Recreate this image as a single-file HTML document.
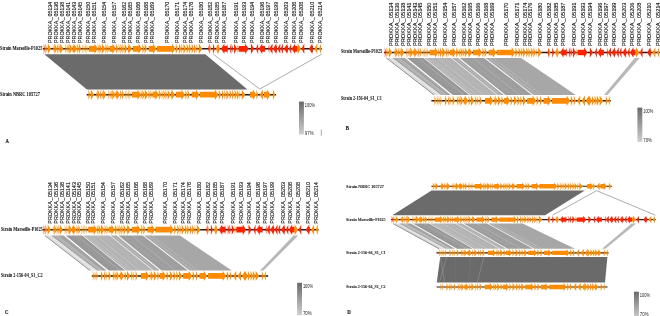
<!DOCTYPE html>
<html><head><meta charset="utf-8"><title>Figure</title>
<style>
html,body{margin:0;padding:0;background:#fff;}
body{width:660px;height:316px;overflow:hidden;}
svg{display:block;filter:blur(0.45px);}
.gl text{font-family:"Liberation Sans",sans-serif;fill:#111;stroke:#111;stroke-width:0.5px;}
.sl{font-family:"Liberation Serif",serif;font-weight:bold;fill:#111;stroke:#111;stroke-width:0.04px;}
.lg{font-family:"Liberation Sans",sans-serif;fill:#1e1e1e;}
.pl{font-family:"Liberation Serif",serif;font-weight:bold;fill:#111;stroke:#111;stroke-width:0.15px;}
</style></head>
<body>
<svg width="660" height="316" viewBox="0 0 660 316">
<rect width="660" height="316" fill="#fff"/>
<defs>
<linearGradient id="gA" x1="0" y1="0" x2="0" y2="1"><stop offset="0" stop-color="#6a6a6a"/><stop offset="1" stop-color="#cfcfcf"/></linearGradient>
<linearGradient id="gB" x1="0" y1="0" x2="0" y2="1"><stop offset="0" stop-color="#6a6a6a"/><stop offset="1" stop-color="#d0d0d0"/></linearGradient>
<linearGradient id="gC" x1="0" y1="0" x2="0" y2="1"><stop offset="0" stop-color="#6a6a6a"/><stop offset="1" stop-color="#d0d0d0"/></linearGradient>
<linearGradient id="gD" x1="0" y1="0" x2="0" y2="1"><stop offset="0" stop-color="#6a6a6a"/><stop offset="1" stop-color="#c8c8c8"/></linearGradient>
</defs>
<g class="gl"><text transform="translate(51.87,43) scale(0.2250,0.2451) rotate(-90)" font-size="21.8">PROKKA<tspan dx="3.2">_</tspan><tspan dx="2.4" font-size="21.6">05134</tspan></text>
<text transform="translate(58.09,43) scale(0.2250,0.2451) rotate(-90)" font-size="21.8">PROKKA<tspan dx="3.2">_</tspan><tspan dx="2.4" font-size="21.6">05136</tspan></text>
<text transform="translate(64.11,43) scale(0.2250,0.2451) rotate(-90)" font-size="21.8">PROKKA<tspan dx="3.2">_</tspan><tspan dx="2.4" font-size="21.6">05138</tspan></text>
<text transform="translate(70.33,43) scale(0.2250,0.2451) rotate(-90)" font-size="21.8">PROKKA<tspan dx="3.2">_</tspan><tspan dx="2.4" font-size="21.6">05141</tspan></text>
<text transform="translate(76.35,43) scale(0.2250,0.2451) rotate(-90)" font-size="21.8">PROKKA<tspan dx="3.2">_</tspan><tspan dx="2.4" font-size="21.6">05143</tspan></text>
<text transform="translate(81.86,43) scale(0.2250,0.2451) rotate(-90)" font-size="21.8">PROKKA<tspan dx="3.2">_</tspan><tspan dx="2.4" font-size="21.6">05145</tspan></text>
<text transform="translate(90.49,43) scale(0.2250,0.2451) rotate(-90)" font-size="21.8">PROKKA<tspan dx="3.2">_</tspan><tspan dx="2.4" font-size="21.6">05150</tspan></text>
<text transform="translate(96.21,43) scale(0.2250,0.2451) rotate(-90)" font-size="21.8">PROKKA<tspan dx="3.2">_</tspan><tspan dx="2.4" font-size="21.6">05151</tspan></text>
<text transform="translate(106.44,43) scale(0.2250,0.2451) rotate(-90)" font-size="21.8">PROKKA<tspan dx="3.2">_</tspan><tspan dx="2.4" font-size="21.6">05154</tspan></text>
<text transform="translate(115.88,43) scale(0.2250,0.2451) rotate(-90)" font-size="21.8">PROKKA<tspan dx="3.2">_</tspan><tspan dx="2.4" font-size="21.6">05157</tspan></text>
<text transform="translate(125.51,43) scale(0.2250,0.2451) rotate(-90)" font-size="21.8">PROKKA<tspan dx="3.2">_</tspan><tspan dx="2.4" font-size="21.6">05162</tspan></text>
<text transform="translate(131.63,43) scale(0.2250,0.2451) rotate(-90)" font-size="21.8">PROKKA<tspan dx="3.2">_</tspan><tspan dx="2.4" font-size="21.6">05165</tspan></text>
<text transform="translate(139.96,43) scale(0.2250,0.2451) rotate(-90)" font-size="21.8">PROKKA<tspan dx="3.2">_</tspan><tspan dx="2.4" font-size="21.6">05166</tspan></text>
<text transform="translate(148.38,43) scale(0.2250,0.2451) rotate(-90)" font-size="21.8">PROKKA<tspan dx="3.2">_</tspan><tspan dx="2.4" font-size="21.6">05168</tspan></text>
<text transform="translate(154.4,43) scale(0.2250,0.2451) rotate(-90)" font-size="21.8">PROKKA<tspan dx="3.2">_</tspan><tspan dx="2.4" font-size="21.6">05169</tspan></text>
<text transform="translate(168.85,43) scale(0.2250,0.2451) rotate(-90)" font-size="21.8">PROKKA<tspan dx="3.2">_</tspan><tspan dx="2.4" font-size="21.6">05170</tspan></text>
<text transform="translate(179.49,43) scale(0.2250,0.2451) rotate(-90)" font-size="21.8">PROKKA<tspan dx="3.2">_</tspan><tspan dx="2.4" font-size="21.6">05171</tspan></text>
<text transform="translate(187.41,43) scale(0.2250,0.2451) rotate(-90)" font-size="21.8">PROKKA<tspan dx="3.2">_</tspan><tspan dx="2.4" font-size="21.6">05174</tspan></text>
<text transform="translate(193.23,43) scale(0.2250,0.2451) rotate(-90)" font-size="21.8">PROKKA<tspan dx="3.2">_</tspan><tspan dx="2.4" font-size="21.6">05176</tspan></text>
<text transform="translate(203.06,43) scale(0.2250,0.2451) rotate(-90)" font-size="21.8">PROKKA<tspan dx="3.2">_</tspan><tspan dx="2.4" font-size="21.6">05180</tspan></text>
<text transform="translate(212.49,43) scale(0.2250,0.2451) rotate(-90)" font-size="21.8">PROKKA<tspan dx="3.2">_</tspan><tspan dx="2.4" font-size="21.6">05182</tspan></text>
<text transform="translate(219.42,43) scale(0.2250,0.2451) rotate(-90)" font-size="21.8">PROKKA<tspan dx="3.2">_</tspan><tspan dx="2.4" font-size="21.6">05185</tspan></text>
<text transform="translate(226.44,43) scale(0.2250,0.2451) rotate(-90)" font-size="21.8">PROKKA<tspan dx="3.2">_</tspan><tspan dx="2.4" font-size="21.6">05187</tspan></text>
<text transform="translate(237.88,43) scale(0.2250,0.2451) rotate(-90)" font-size="21.8">PROKKA<tspan dx="3.2">_</tspan><tspan dx="2.4" font-size="21.6">05191</tspan></text>
<text transform="translate(246.41,43) scale(0.2250,0.2451) rotate(-90)" font-size="21.8">PROKKA<tspan dx="3.2">_</tspan><tspan dx="2.4" font-size="21.6">05193</tspan></text>
<text transform="translate(254.03,43) scale(0.2250,0.2451) rotate(-90)" font-size="21.8">PROKKA<tspan dx="3.2">_</tspan><tspan dx="2.4" font-size="21.6">05194</tspan></text>
<text transform="translate(263.56,43) scale(0.2250,0.2451) rotate(-90)" font-size="21.8">PROKKA<tspan dx="3.2">_</tspan><tspan dx="2.4" font-size="21.6">05196</tspan></text>
<text transform="translate(270.18,43) scale(0.2250,0.2451) rotate(-90)" font-size="21.8">PROKKA<tspan dx="3.2">_</tspan><tspan dx="2.4" font-size="21.6">05197</tspan></text>
<text transform="translate(277.71,43) scale(0.2250,0.2451) rotate(-90)" font-size="21.8">PROKKA<tspan dx="3.2">_</tspan><tspan dx="2.4" font-size="21.6">05199</tspan></text>
<text transform="translate(288.24,43) scale(0.2250,0.2451) rotate(-90)" font-size="21.8">PROKKA<tspan dx="3.2">_</tspan><tspan dx="2.4" font-size="21.6">05203</tspan></text>
<text transform="translate(296.17,43) scale(0.2250,0.2451) rotate(-90)" font-size="21.8">PROKKA<tspan dx="3.2">_</tspan><tspan dx="2.4" font-size="21.6">05206</tspan></text>
<text transform="translate(303.39,43) scale(0.2250,0.2451) rotate(-90)" font-size="21.8">PROKKA<tspan dx="3.2">_</tspan><tspan dx="2.4" font-size="21.6">05208</tspan></text>
<text transform="translate(313.83,43) scale(0.2250,0.2451) rotate(-90)" font-size="21.8">PROKKA<tspan dx="3.2">_</tspan><tspan dx="2.4" font-size="21.6">05210</tspan></text>
<text transform="translate(322.46,43) scale(0.2250,0.2451) rotate(-90)" font-size="21.8">PROKKA<tspan dx="3.2">_</tspan><tspan dx="2.4" font-size="21.6">05214</tspan></text></g>
<polygon points="44.3,54.2 205.3,54.2 247.5,89.4 86.9,89.4" fill="#6b6b6b"/>
<polyline points="213.2,54.2 259.8,89.0 321.6,54.2" fill="none" stroke="#666" stroke-width="0.55"/>
<line x1="43" y1="48.8" x2="321.8" y2="48.8" stroke="#1e1e1e" stroke-width="1.5"/>
<polygon points="43.6,43.6 45.5,48.8 43.6,54" fill="#ff2200" fill-opacity="0.66"/>
<polygon points="45.2,43.6 47.9,48.8 45.2,54" fill="#ff8c00" fill-opacity="0.72"/>
<polygon points="47.9,43.6 51.1,48.8 47.9,54" fill="#ff8c00"/>
<polygon points="54.7,43.6 52.9,48.8 54.7,54" fill="#ff8c00" fill-opacity="0.84"/>
<polygon points="54.7,43.6 57,48.8 54.7,54" fill="#ff8c00"/>
<polygon points="57,43.6 58.8,48.8 57,54" fill="#ff8c00" fill-opacity="0.84"/>
<polygon points="58.8,43.6 60.2,48.8 58.8,54" fill="#ff8c00"/>
<polygon points="60.2,43.6 63.4,48.8 60.2,54" fill="#ff8c00"/>
<polygon points="65.2,43.6 66.8,48.8 65.2,54" fill="#ff8c00" fill-opacity="0.72"/>
<polygon points="66.8,43.6 68.4,48.8 66.8,54" fill="#ff8c00" fill-opacity="0.72"/>
<polygon points="68.4,43.6 69.4,48.8 68.4,54" fill="#ff8c00"/>
<polygon points="69.4,43.6 72.5,48.8 69.4,54" fill="#ff8c00"/>
<polygon points="72.5,45.95 73.6,45.95 73.6,43.6 77.1,48.8 73.6,54 73.6,51.65 72.5,51.65" fill="#ff8c00"/>
<polygon points="77.1,43.6 79,48.8 77.1,54" fill="#ff8c00" fill-opacity="0.96"/>
<polygon points="79,43.6 81.2,48.8 79,54" fill="#ff8c00" fill-opacity="0.96"/>
<polygon points="82.1,43.6 83.6,48.8 82.1,54" fill="#ff8c00" fill-opacity="0.66"/>
<polygon points="83.6,43.6 85,48.8 83.6,54" fill="#ff8c00" fill-opacity="0.66"/>
<polygon points="85,43.6 86.5,48.8 85,54" fill="#ff8c00" fill-opacity="0.66"/>
<polygon points="86.5,43.6 88,48.8 86.5,54" fill="#ff8c00" fill-opacity="0.66"/>
<polygon points="88.9,45.95 94.5,45.95 94.5,43.6 98,48.8 94.5,54 94.5,51.65 88.9,51.65" fill="#ff8c00"/>
<polygon points="97.7,43.6 99.5,48.8 97.7,54" fill="#ff8c00" fill-opacity="0.84"/>
<polygon points="99.5,43.6 101.8,48.8 99.5,54" fill="#ff8c00"/>
<polygon points="101.8,43.6 105.5,48.8 101.8,54" fill="#ff8c00"/>
<polygon points="105.5,43.6 107.3,48.8 105.5,54" fill="#ff8c00"/>
<polygon points="107.3,43.6 109.5,48.8 107.3,54" fill="#ff8c00" fill-opacity="0.72"/>
<polygon points="109.5,45.95 112.4,45.95 112.4,43.6 115.9,48.8 112.4,54 112.4,51.65 109.5,51.65" fill="#ff8c00"/>
<polygon points="115.9,43.6 118.6,48.8 115.9,54" fill="#ff8c00" fill-opacity="0.9"/>
<polygon points="118.6,43.6 120.5,48.8 118.6,54" fill="#ff8c00" fill-opacity="0.72"/>
<polygon points="120.5,43.6 122.5,48.8 120.5,54" fill="#ff8c00"/>
<polygon points="122.5,43.6 124.3,48.8 122.5,54" fill="#ff8c00"/>
<polygon points="124.7,43.6 127.5,48.8 124.7,54" fill="#ff8c00"/>
<polygon points="127.9,45.95 128.5,45.95 128.5,43.6 132,48.8 128.5,54 128.5,51.65 127.9,51.65" fill="#ff8c00"/>
<polygon points="132.9,45.95 138.5,45.95 138.5,43.6 142,48.8 138.5,54 138.5,51.65 132.9,51.65" fill="#ff8c00"/>
<polygon points="142.5,43.6 144.3,48.8 142.5,54" fill="#ff8c00"/>
<polygon points="144.7,43.6 147,48.8 144.7,54" fill="#ff8c00"/>
<polygon points="148.7,45.95 153,45.95 153,43.6 156.5,48.8 153,54 153,51.65 148.7,51.65" fill="#ff8c00"/>
<polygon points="156.9,45.95 172,45.95 172,43.6 175.5,48.8 172,54 172,51.65 156.9,51.65" fill="#ff8c00"/>
<polygon points="175.8,43.6 178.1,48.8 175.8,54" fill="#ff8c00"/>
<polygon points="179,43.6 181.3,48.8 179,54" fill="#ff8c00"/>
<polygon points="181.3,43.6 183.1,48.8 181.3,54" fill="#ff8c00" fill-opacity="0.9"/>
<polygon points="183.5,43.6 186.3,48.8 183.5,54" fill="#ff8c00"/>
<polygon points="186.7,43.6 189,48.8 186.7,54" fill="#ff8c00"/>
<polygon points="189,43.6 191.3,48.8 189,54" fill="#ff8c00" fill-opacity="0.9"/>
<polygon points="191.7,43.6 194,48.8 191.7,54" fill="#ff8c00"/>
<polygon points="194,43.6 196.3,48.8 194,54" fill="#ff8c00"/>
<polygon points="196.3,43.6 198.1,48.8 196.3,54" fill="#ff8c00" fill-opacity="0.66"/>
<polygon points="198.8,43.6 202.3,48.8 198.8,54" fill="#ff8c00"/>
<polygon points="209.6,43.6 208,48.8 209.6,54" fill="#ff2200"/>
<polygon points="209.6,43.6 211.1,48.8 209.6,54" fill="#ff8c00"/>
<polygon points="213,43.6 215,48.8 213,54" fill="#ff2200"/>
<polygon points="218,43.6 215.9,48.8 218,54" fill="#ff8c00"/>
<polygon points="218,43.6 220,48.8 218,54" fill="#ff8c00"/>
<polygon points="227.3,45.95 224.4,45.95 224.4,43.6 220.9,48.8 224.4,54 224.4,51.65 227.3,51.65" fill="#ff2200"/>
<polygon points="227,43.6 228.7,48.8 227,54" fill="#ff2200" fill-opacity="0.72"/>
<polygon points="230,43.6 231.6,48.8 230,54" fill="#ff2200" fill-opacity="0.9"/>
<polygon points="231.6,43.6 233.3,48.8 231.6,54" fill="#ff2200" fill-opacity="0.9"/>
<polygon points="234,43.6 236.9,48.8 234,54" fill="#ff2200"/>
<polygon points="236.9,43.6 238.7,48.8 236.9,54" fill="#ff8c00" fill-opacity="0.6"/>
<polygon points="238.7,45.95 245.2,45.95 245.2,43.6 248.7,48.8 245.2,54 245.2,51.65 238.7,51.65" fill="#ff2200"/>
<polygon points="251,43.6 254.2,48.8 251,54" fill="#ff2200"/>
<polygon points="258.1,43.6 255.9,48.8 258.1,54" fill="#ff2200"/>
<polygon points="265.2,45.95 262.3,45.95 262.3,43.6 258.8,48.8 262.3,54 262.3,51.65 265.2,51.65" fill="#ff2200"/>
<polygon points="269.3,43.6 267.9,48.8 269.3,54" fill="#ff2200" fill-opacity="0.78"/>
<polygon points="272.5,43.6 269.3,48.8 272.5,54" fill="#ff2200"/>
<polygon points="277,45.95 276.4,45.95 276.4,43.6 272.9,48.8 276.4,54 276.4,51.65 277,51.65" fill="#ff2200"/>
<polygon points="280.3,43.6 277.5,48.8 280.3,54" fill="#ff2200"/>
<polygon points="283,43.6 280.7,48.8 283,54" fill="#ff2200"/>
<polygon points="288,45.95 287.4,45.95 287.4,43.6 283.9,48.8 287.4,54 287.4,51.65 288,51.65" fill="#ff2200"/>
<polygon points="291.2,43.6 288.9,48.8 291.2,54" fill="#ff2200"/>
<polygon points="297.1,45.95 295.1,45.95 295.1,43.6 291.6,48.8 295.1,54 295.1,51.65 297.1,51.65" fill="#ff2200"/>
<polygon points="297.1,45.95 297.7,45.95 297.7,43.6 301.2,48.8 297.7,54 297.7,51.65 297.1,51.65" fill="#ff8c00"/>
<polygon points="304.3,43.6 301.6,48.8 304.3,54" fill="#ff2200"/>
<polygon points="313,45.95 312.4,45.95 312.4,43.6 308.9,48.8 312.4,54 312.4,51.65 313,51.65" fill="#ff2200"/>
<polygon points="317.3,43.6 314.3,48.8 317.3,54" fill="#ff8c00"/>
<polygon points="321.1,43.6 318.9,48.8 321.1,54" fill="#ff8c00"/>
<line x1="86.7" y1="94.7" x2="276" y2="94.7" stroke="#1e1e1e" stroke-width="1.5"/>
<polygon points="88.2,89.5 90.9,94.7 88.2,99.9" fill="#ff8c00" fill-opacity="0.72"/>
<polygon points="90.9,89.5 94.1,94.7 90.9,99.9" fill="#ff8c00"/>
<polygon points="97.7,89.5 95.9,94.7 97.7,99.9" fill="#ff8c00" fill-opacity="0.84"/>
<polygon points="97.7,89.5 100,94.7 97.7,99.9" fill="#ff8c00"/>
<polygon points="100,89.5 101.8,94.7 100,99.9" fill="#ff8c00" fill-opacity="0.84"/>
<polygon points="101.8,89.5 103.2,94.7 101.8,99.9" fill="#ff8c00"/>
<polygon points="103.2,89.5 106.4,94.7 103.2,99.9" fill="#ff8c00"/>
<polygon points="108.2,89.5 109.8,94.7 108.2,99.9" fill="#ff8c00" fill-opacity="0.72"/>
<polygon points="109.8,89.5 111.4,94.7 109.8,99.9" fill="#ff8c00" fill-opacity="0.72"/>
<polygon points="111.4,89.5 112.4,94.7 111.4,99.9" fill="#ff8c00"/>
<polygon points="112.4,89.5 115.5,94.7 112.4,99.9" fill="#ff8c00"/>
<polygon points="115.5,91.85 116.6,91.85 116.6,89.5 120.1,94.7 116.6,99.9 116.6,97.55 115.5,97.55" fill="#ff8c00"/>
<polygon points="120.1,89.5 122,94.7 120.1,99.9" fill="#ff8c00" fill-opacity="0.96"/>
<polygon points="122,89.5 124.2,94.7 122,99.9" fill="#ff8c00" fill-opacity="0.96"/>
<polygon points="125.1,89.5 126.6,94.7 125.1,99.9" fill="#ff8c00" fill-opacity="0.66"/>
<polygon points="126.6,89.5 128,94.7 126.6,99.9" fill="#ff8c00" fill-opacity="0.66"/>
<polygon points="128,89.5 129.5,94.7 128,99.9" fill="#ff8c00" fill-opacity="0.66"/>
<polygon points="129.5,89.5 131,94.7 129.5,99.9" fill="#ff8c00" fill-opacity="0.66"/>
<polygon points="131.9,91.85 137.5,91.85 137.5,89.5 141,94.7 137.5,99.9 137.5,97.55 131.9,97.55" fill="#ff8c00"/>
<polygon points="140.7,89.5 142.5,94.7 140.7,99.9" fill="#ff8c00" fill-opacity="0.84"/>
<polygon points="142.5,89.5 144.8,94.7 142.5,99.9" fill="#ff8c00"/>
<polygon points="144.8,89.5 148.5,94.7 144.8,99.9" fill="#ff8c00"/>
<polygon points="148.5,89.5 150.3,94.7 148.5,99.9" fill="#ff8c00"/>
<polygon points="150.3,89.5 152.5,94.7 150.3,99.9" fill="#ff8c00" fill-opacity="0.72"/>
<polygon points="152.5,91.85 155.4,91.85 155.4,89.5 158.9,94.7 155.4,99.9 155.4,97.55 152.5,97.55" fill="#ff8c00"/>
<polygon points="158.9,89.5 161.6,94.7 158.9,99.9" fill="#ff8c00" fill-opacity="0.9"/>
<polygon points="161.6,89.5 163.5,94.7 161.6,99.9" fill="#ff8c00" fill-opacity="0.72"/>
<polygon points="163.5,89.5 165.5,94.7 163.5,99.9" fill="#ff8c00"/>
<polygon points="165.5,89.5 167.3,94.7 165.5,99.9" fill="#ff8c00"/>
<polygon points="167.7,89.5 170.5,94.7 167.7,99.9" fill="#ff8c00"/>
<polygon points="170.9,91.85 171.5,91.85 171.5,89.5 175,94.7 171.5,99.9 171.5,97.55 170.9,97.55" fill="#ff8c00"/>
<polygon points="175.9,91.85 181.5,91.85 181.5,89.5 185,94.7 181.5,99.9 181.5,97.55 175.9,97.55" fill="#ff8c00"/>
<polygon points="185.5,89.5 187.3,94.7 185.5,99.9" fill="#ff8c00"/>
<polygon points="187.7,89.5 190,94.7 187.7,99.9" fill="#ff8c00"/>
<polygon points="191.7,91.85 196,91.85 196,89.5 199.5,94.7 196,99.9 196,97.55 191.7,97.55" fill="#ff8c00"/>
<polygon points="199.9,91.85 215,91.85 215,89.5 218.5,94.7 215,99.9 215,97.55 199.9,97.55" fill="#ff8c00"/>
<polygon points="218.8,89.5 221.1,94.7 218.8,99.9" fill="#ff8c00"/>
<polygon points="222,89.5 224.3,94.7 222,99.9" fill="#ff8c00"/>
<polygon points="224.3,89.5 226.1,94.7 224.3,99.9" fill="#ff8c00" fill-opacity="0.9"/>
<polygon points="226.5,89.5 229.3,94.7 226.5,99.9" fill="#ff8c00"/>
<polygon points="229.7,89.5 232,94.7 229.7,99.9" fill="#ff8c00"/>
<polygon points="232,89.5 234.3,94.7 232,99.9" fill="#ff8c00" fill-opacity="0.9"/>
<polygon points="234.7,89.5 237,94.7 234.7,99.9" fill="#ff8c00"/>
<polygon points="237,89.5 239.3,94.7 237,99.9" fill="#ff8c00"/>
<polygon points="239.3,89.5 241.1,94.7 239.3,99.9" fill="#ff8c00" fill-opacity="0.66"/>
<polygon points="241.8,89.5 245.3,94.7 241.8,99.9" fill="#ff8c00"/>
<polygon points="250,91.85 252.9,91.85 252.9,89.5 256.4,94.7 252.9,99.9 252.9,97.55 250,97.55" fill="#ff8c00"/>
<polygon points="256.4,89.5 258.2,94.7 256.4,99.9" fill="#ff8c00"/>
<polygon points="263,89.5 259.7,94.7 263,99.9" fill="#ff8c00"/>
<polygon points="263.9,91.85 267.1,91.85 267.1,89.5 270.6,94.7 267.1,99.9 267.1,97.55 263.9,97.55" fill="#ff8c00"/>
<polygon points="273,89.5 275.2,94.7 273,99.9" fill="#ff8c00"/>
<text class="sl" transform="translate(0,49.71) scale(0.7819,1)" font-size="5.5">Strain Marseille-P1025</text>
<text class="sl" transform="translate(0,95.77) scale(0.8080,1)" font-size="5.5">Strain NBRC 105727</text>
<rect x="299" y="101.6" width="4.9" height="32.9" fill="url(#gA)"/>
<text class="lg" transform="translate(304.8,106.5) scale(0.7385,1)" font-size="5.4">100%</text>
<text class="lg" transform="translate(304.8,134.7) scale(0.8142,1)" font-size="5.4">97%</text>
<line x1="321.3" y1="129.5" x2="321.3" y2="135.8" stroke="#555" stroke-width="0.5"/>
<text class="pl" transform="translate(5.5,142.85) scale(0.86,1)" font-size="5.6">A</text>
<g class="gl"><text transform="translate(392.91,46) scale(0.2250,0.2585) rotate(-90)" font-size="21.8">PROKKA<tspan dx="3.2">_</tspan><tspan dx="2.4" font-size="21.6">05134</tspan></text>
<text transform="translate(399.04,46) scale(0.2250,0.2585) rotate(-90)" font-size="21.8">PROKKA<tspan dx="3.2">_</tspan><tspan dx="2.4" font-size="21.6">05136</tspan></text>
<text transform="translate(404.97,46) scale(0.2250,0.2585) rotate(-90)" font-size="21.8">PROKKA<tspan dx="3.2">_</tspan><tspan dx="2.4" font-size="21.6">05138</tspan></text>
<text transform="translate(411.1,46) scale(0.2250,0.2585) rotate(-90)" font-size="21.8">PROKKA<tspan dx="3.2">_</tspan><tspan dx="2.4" font-size="21.6">05141</tspan></text>
<text transform="translate(417.04,46) scale(0.2250,0.2585) rotate(-90)" font-size="21.8">PROKKA<tspan dx="3.2">_</tspan><tspan dx="2.4" font-size="21.6">05143</tspan></text>
<text transform="translate(422.48,46) scale(0.2250,0.2585) rotate(-90)" font-size="21.8">PROKKA<tspan dx="3.2">_</tspan><tspan dx="2.4" font-size="21.6">05145</tspan></text>
<text transform="translate(430.98,46) scale(0.2250,0.2585) rotate(-90)" font-size="21.8">PROKKA<tspan dx="3.2">_</tspan><tspan dx="2.4" font-size="21.6">05150</tspan></text>
<text transform="translate(436.62,46) scale(0.2250,0.2585) rotate(-90)" font-size="21.8">PROKKA<tspan dx="3.2">_</tspan><tspan dx="2.4" font-size="21.6">05151</tspan></text>
<text transform="translate(446.71,46) scale(0.2250,0.2585) rotate(-90)" font-size="21.8">PROKKA<tspan dx="3.2">_</tspan><tspan dx="2.4" font-size="21.6">05154</tspan></text>
<text transform="translate(456,46) scale(0.2250,0.2585) rotate(-90)" font-size="21.8">PROKKA<tspan dx="3.2">_</tspan><tspan dx="2.4" font-size="21.6">05157</tspan></text>
<text transform="translate(465.5,46) scale(0.2250,0.2585) rotate(-90)" font-size="21.8">PROKKA<tspan dx="3.2">_</tspan><tspan dx="2.4" font-size="21.6">05162</tspan></text>
<text transform="translate(471.53,46) scale(0.2250,0.2585) rotate(-90)" font-size="21.8">PROKKA<tspan dx="3.2">_</tspan><tspan dx="2.4" font-size="21.6">05165</tspan></text>
<text transform="translate(479.74,46) scale(0.2250,0.2585) rotate(-90)" font-size="21.8">PROKKA<tspan dx="3.2">_</tspan><tspan dx="2.4" font-size="21.6">05166</tspan></text>
<text transform="translate(488.05,46) scale(0.2250,0.2585) rotate(-90)" font-size="21.8">PROKKA<tspan dx="3.2">_</tspan><tspan dx="2.4" font-size="21.6">05168</tspan></text>
<text transform="translate(493.98,46) scale(0.2250,0.2585) rotate(-90)" font-size="21.8">PROKKA<tspan dx="3.2">_</tspan><tspan dx="2.4" font-size="21.6">05169</tspan></text>
<text transform="translate(508.22,46) scale(0.2250,0.2585) rotate(-90)" font-size="21.8">PROKKA<tspan dx="3.2">_</tspan><tspan dx="2.4" font-size="21.6">05170</tspan></text>
<text transform="translate(518.71,46) scale(0.2250,0.2585) rotate(-90)" font-size="21.8">PROKKA<tspan dx="3.2">_</tspan><tspan dx="2.4" font-size="21.6">05171</tspan></text>
<text transform="translate(526.52,46) scale(0.2250,0.2585) rotate(-90)" font-size="21.8">PROKKA<tspan dx="3.2">_</tspan><tspan dx="2.4" font-size="21.6">05174</tspan></text>
<text transform="translate(532.26,46) scale(0.2250,0.2585) rotate(-90)" font-size="21.8">PROKKA<tspan dx="3.2">_</tspan><tspan dx="2.4" font-size="21.6">05176</tspan></text>
<text transform="translate(541.95,46) scale(0.2250,0.2585) rotate(-90)" font-size="21.8">PROKKA<tspan dx="3.2">_</tspan><tspan dx="2.4" font-size="21.6">05180</tspan></text>
<text transform="translate(551.25,46) scale(0.2250,0.2585) rotate(-90)" font-size="21.8">PROKKA<tspan dx="3.2">_</tspan><tspan dx="2.4" font-size="21.6">05182</tspan></text>
<text transform="translate(558.07,46) scale(0.2250,0.2585) rotate(-90)" font-size="21.8">PROKKA<tspan dx="3.2">_</tspan><tspan dx="2.4" font-size="21.6">05185</tspan></text>
<text transform="translate(564.99,46) scale(0.2250,0.2585) rotate(-90)" font-size="21.8">PROKKA<tspan dx="3.2">_</tspan><tspan dx="2.4" font-size="21.6">05187</tspan></text>
<text transform="translate(576.27,46) scale(0.2250,0.2585) rotate(-90)" font-size="21.8">PROKKA<tspan dx="3.2">_</tspan><tspan dx="2.4" font-size="21.6">05191</tspan></text>
<text transform="translate(584.67,46) scale(0.2250,0.2585) rotate(-90)" font-size="21.8">PROKKA<tspan dx="3.2">_</tspan><tspan dx="2.4" font-size="21.6">05193</tspan></text>
<text transform="translate(592.19,46) scale(0.2250,0.2585) rotate(-90)" font-size="21.8">PROKKA<tspan dx="3.2">_</tspan><tspan dx="2.4" font-size="21.6">05194</tspan></text>
<text transform="translate(601.59,46) scale(0.2250,0.2585) rotate(-90)" font-size="21.8">PROKKA<tspan dx="3.2">_</tspan><tspan dx="2.4" font-size="21.6">05196</tspan></text>
<text transform="translate(608.11,46) scale(0.2250,0.2585) rotate(-90)" font-size="21.8">PROKKA<tspan dx="3.2">_</tspan><tspan dx="2.4" font-size="21.6">05197</tspan></text>
<text transform="translate(615.53,46) scale(0.2250,0.2585) rotate(-90)" font-size="21.8">PROKKA<tspan dx="3.2">_</tspan><tspan dx="2.4" font-size="21.6">05199</tspan></text>
<text transform="translate(625.91,46) scale(0.2250,0.2585) rotate(-90)" font-size="21.8">PROKKA<tspan dx="3.2">_</tspan><tspan dx="2.4" font-size="21.6">05203</tspan></text>
<text transform="translate(633.73,46) scale(0.2250,0.2585) rotate(-90)" font-size="21.8">PROKKA<tspan dx="3.2">_</tspan><tspan dx="2.4" font-size="21.6">05206</tspan></text>
<text transform="translate(640.85,46) scale(0.2250,0.2585) rotate(-90)" font-size="21.8">PROKKA<tspan dx="3.2">_</tspan><tspan dx="2.4" font-size="21.6">05208</tspan></text>
<text transform="translate(651.13,46) scale(0.2250,0.2585) rotate(-90)" font-size="21.8">PROKKA<tspan dx="3.2">_</tspan><tspan dx="2.4" font-size="21.6">05210</tspan></text>
<text transform="translate(659.64,46) scale(0.2250,0.2585) rotate(-90)" font-size="21.8">PROKKA<tspan dx="3.2">_</tspan><tspan dx="2.4" font-size="21.6">05214</tspan></text></g>
<polygon points="385.8,57.9 392.3,57.9 441,94.9 433.3,94.9" fill="#ececec"/>
<polygon points="392.3,57.9 405,57.9 450.8,94.9 441,94.9" fill="#a6a6a6"/>
<polygon points="407,57.9 423.5,57.9 469.3,94.9 452.8,94.9" fill="#989898"/>
<polygon points="424.5,57.9 451,57.9 496.8,94.9 470.3,94.9" fill="#b3b3b3"/>
<polygon points="452,57.9 458,57.9 503.8,94.9 497.8,94.9" fill="#a9a9a9"/>
<polygon points="459.7,57.9 484,57.9 532,94.9 505.5,94.9" fill="#9e9e9e"/>
<polygon points="485.5,57.9 521.2,57.9 575.8,94.9 533.5,94.9" fill="#a7a7a7"/>
<polygon points="634.8,57.9 639.6,57.9 607.5,94.9 604,94.9" fill="#b8b8b8"/>
<line x1="386.3" y1="57.9" x2="434.2" y2="94.9" stroke="#6e6e6e" stroke-width="0.75"/>
<line x1="388.6" y1="57.9" x2="436.6" y2="94.9" stroke="#b4b4b4" stroke-width="0.45"/>
<line x1="390.8" y1="57.9" x2="439.4" y2="94.9" stroke="#d0d0d0" stroke-width="0.4"/>
<line x1="396" y1="57.9" x2="444" y2="94.9" stroke="#e6e6e6" stroke-width="0.35"/>
<line x1="401" y1="57.9" x2="447.5" y2="94.9" stroke="#8a8a8a" stroke-width="0.3"/>
<line x1="414" y1="57.9" x2="460" y2="94.9" stroke="#a8a8a8" stroke-width="0.35"/>
<line x1="418" y1="57.9" x2="464" y2="94.9" stroke="#dedede" stroke-width="0.3"/>
<line x1="431" y1="57.9" x2="477" y2="94.9" stroke="#d8d8d8" stroke-width="0.35"/>
<line x1="437.5" y1="57.9" x2="483.5" y2="94.9" stroke="#e2e2e2" stroke-width="0.35"/>
<line x1="444" y1="57.9" x2="490" y2="94.9" stroke="#c8c8c8" stroke-width="0.3"/>
<line x1="466" y1="57.9" x2="512" y2="94.9" stroke="#b5b5b5" stroke-width="0.3"/>
<line x1="473" y1="57.9" x2="519.5" y2="94.9" stroke="#dadada" stroke-width="0.3"/>
<line x1="478" y1="57.9" x2="525" y2="94.9" stroke="#ababab" stroke-width="0.3"/>
<line x1="398.5" y1="57.9" x2="446" y2="94.9" stroke="#f2f2f2" stroke-width="0.35"/>
<line x1="427" y1="57.9" x2="473" y2="94.9" stroke="#f0f0f0" stroke-width="0.3"/>
<line x1="455" y1="57.9" x2="500.5" y2="94.9" stroke="#f4f4f4" stroke-width="0.3"/>
<line x1="489" y1="57.9" x2="537" y2="94.9" stroke="#e8e8e8" stroke-width="0.3"/>
<line x1="493" y1="57.9" x2="542" y2="94.9" stroke="#d8d8d8" stroke-width="0.3"/>
<line x1="384.12" y1="52.5" x2="659.85" y2="52.5" stroke="#1e1e1e" stroke-width="1.5"/>
<polygon points="384.71,47.3 386.59,52.5 384.71,57.7" fill="#ff2200" fill-opacity="0.66"/>
<polygon points="386.29,47.3 388.96,52.5 386.29,57.7" fill="#ff8c00" fill-opacity="0.72"/>
<polygon points="388.96,47.3 392.13,52.5 388.96,57.7" fill="#ff8c00"/>
<polygon points="395.69,47.3 393.91,52.5 395.69,57.7" fill="#ff8c00" fill-opacity="0.84"/>
<polygon points="395.69,47.3 397.96,52.5 395.69,57.7" fill="#ff8c00"/>
<polygon points="397.96,47.3 399.74,52.5 397.96,57.7" fill="#ff8c00" fill-opacity="0.84"/>
<polygon points="399.74,47.3 401.13,52.5 399.74,57.7" fill="#ff8c00"/>
<polygon points="401.13,47.3 404.29,52.5 401.13,57.7" fill="#ff8c00"/>
<polygon points="406.07,47.3 407.65,52.5 406.07,57.7" fill="#ff8c00" fill-opacity="0.72"/>
<polygon points="407.65,47.3 409.24,52.5 407.65,57.7" fill="#ff8c00" fill-opacity="0.72"/>
<polygon points="409.24,47.3 410.23,52.5 409.24,57.7" fill="#ff8c00"/>
<polygon points="410.23,47.3 413.29,52.5 410.23,57.7" fill="#ff8c00"/>
<polygon points="413.29,49.65 414.38,49.65 414.38,47.3 417.84,52.5 414.38,57.7 414.38,55.35 413.29,55.35" fill="#ff8c00"/>
<polygon points="417.84,47.3 419.72,52.5 417.84,57.7" fill="#ff8c00" fill-opacity="0.96"/>
<polygon points="419.72,47.3 421.9,52.5 419.72,57.7" fill="#ff8c00" fill-opacity="0.96"/>
<polygon points="422.79,47.3 424.27,52.5 422.79,57.7" fill="#ff8c00" fill-opacity="0.66"/>
<polygon points="424.27,47.3 425.65,52.5 424.27,57.7" fill="#ff8c00" fill-opacity="0.66"/>
<polygon points="425.65,47.3 427.14,52.5 425.65,57.7" fill="#ff8c00" fill-opacity="0.66"/>
<polygon points="427.14,47.3 428.62,52.5 427.14,57.7" fill="#ff8c00" fill-opacity="0.66"/>
<polygon points="429.51,49.65 435.05,49.65 435.05,47.3 438.51,52.5 435.05,57.7 435.05,55.35 429.51,55.35" fill="#ff8c00"/>
<polygon points="438.21,47.3 440,52.5 438.21,57.7" fill="#ff8c00" fill-opacity="0.84"/>
<polygon points="440,47.3 442.27,52.5 440,57.7" fill="#ff8c00"/>
<polygon points="442.27,47.3 445.93,52.5 442.27,57.7" fill="#ff8c00"/>
<polygon points="445.93,47.3 447.71,52.5 445.93,57.7" fill="#ff8c00"/>
<polygon points="447.71,47.3 449.88,52.5 447.71,57.7" fill="#ff8c00" fill-opacity="0.72"/>
<polygon points="449.88,49.65 452.75,49.65 452.75,47.3 456.21,52.5 452.75,57.7 452.75,55.35 449.88,55.35" fill="#ff8c00"/>
<polygon points="456.21,47.3 458.88,52.5 456.21,57.7" fill="#ff8c00" fill-opacity="0.9"/>
<polygon points="458.88,47.3 460.76,52.5 458.88,57.7" fill="#ff8c00" fill-opacity="0.72"/>
<polygon points="460.76,47.3 462.74,52.5 460.76,57.7" fill="#ff8c00"/>
<polygon points="462.74,47.3 464.52,52.5 462.74,57.7" fill="#ff8c00"/>
<polygon points="464.92,47.3 467.69,52.5 464.92,57.7" fill="#ff8c00"/>
<polygon points="468.08,49.65 468.68,49.65 468.68,47.3 472.14,52.5 468.68,57.7 468.68,55.35 468.08,55.35" fill="#ff8c00"/>
<polygon points="473.03,49.65 478.57,49.65 478.57,47.3 482.03,52.5 478.57,57.7 478.57,55.35 473.03,55.35" fill="#ff8c00"/>
<polygon points="482.52,47.3 484.3,52.5 482.52,57.7" fill="#ff8c00"/>
<polygon points="484.7,47.3 486.97,52.5 484.7,57.7" fill="#ff8c00"/>
<polygon points="488.65,49.65 492.91,49.65 492.91,47.3 496.37,52.5 492.91,57.7 492.91,55.35 488.65,55.35" fill="#ff8c00"/>
<polygon points="496.76,49.65 511.7,49.65 511.7,47.3 515.16,52.5 511.7,57.7 511.7,55.35 496.76,55.35" fill="#ff8c00"/>
<polygon points="515.46,47.3 517.73,52.5 515.46,57.7" fill="#ff8c00"/>
<polygon points="518.62,47.3 520.9,52.5 518.62,57.7" fill="#ff8c00"/>
<polygon points="520.9,47.3 522.68,52.5 520.9,57.7" fill="#ff8c00" fill-opacity="0.9"/>
<polygon points="523.07,47.3 525.84,52.5 523.07,57.7" fill="#ff8c00"/>
<polygon points="526.24,47.3 528.51,52.5 526.24,57.7" fill="#ff8c00"/>
<polygon points="528.51,47.3 530.79,52.5 528.51,57.7" fill="#ff8c00" fill-opacity="0.9"/>
<polygon points="531.18,47.3 533.46,52.5 531.18,57.7" fill="#ff8c00"/>
<polygon points="533.46,47.3 535.73,52.5 533.46,57.7" fill="#ff8c00"/>
<polygon points="535.73,47.3 537.51,52.5 535.73,57.7" fill="#ff8c00" fill-opacity="0.66"/>
<polygon points="538.2,47.3 541.66,52.5 538.2,57.7" fill="#ff8c00"/>
<polygon points="548.88,47.3 547.3,52.5 548.88,57.7" fill="#ff2200"/>
<polygon points="548.88,47.3 550.37,52.5 548.88,57.7" fill="#ff8c00"/>
<polygon points="552.25,47.3 554.22,52.5 552.25,57.7" fill="#ff2200"/>
<polygon points="557.19,47.3 555.11,52.5 557.19,57.7" fill="#ff8c00"/>
<polygon points="557.19,47.3 559.17,52.5 557.19,57.7" fill="#ff8c00"/>
<polygon points="566.39,49.65 563.52,49.65 563.52,47.3 560.06,52.5 563.52,57.7 563.52,55.35 566.39,55.35" fill="#ff2200"/>
<polygon points="566.09,47.3 567.77,52.5 566.09,57.7" fill="#ff2200" fill-opacity="0.72"/>
<polygon points="569.06,47.3 570.64,52.5 569.06,57.7" fill="#ff2200" fill-opacity="0.9"/>
<polygon points="570.64,47.3 572.32,52.5 570.64,57.7" fill="#ff2200" fill-opacity="0.9"/>
<polygon points="573.02,47.3 575.88,52.5 573.02,57.7" fill="#ff2200"/>
<polygon points="575.88,47.3 577.66,52.5 575.88,57.7" fill="#ff8c00" fill-opacity="0.6"/>
<polygon points="577.66,49.65 584.09,49.65 584.09,47.3 587.55,52.5 584.09,57.7 584.09,55.35 577.66,55.35" fill="#ff2200"/>
<polygon points="589.83,47.3 592.99,52.5 589.83,57.7" fill="#ff2200"/>
<polygon points="596.85,47.3 594.67,52.5 596.85,57.7" fill="#ff2200"/>
<polygon points="603.87,49.65 601,49.65 601,47.3 597.54,52.5 601,57.7 601,55.35 603.87,55.35" fill="#ff2200"/>
<polygon points="607.93,47.3 606.54,52.5 607.93,57.7" fill="#ff2200" fill-opacity="0.78"/>
<polygon points="611.09,47.3 607.93,52.5 611.09,57.7" fill="#ff2200"/>
<polygon points="615.54,49.65 614.95,49.65 614.95,47.3 611.49,52.5 614.95,57.7 614.95,55.35 615.54,55.35" fill="#ff2200"/>
<polygon points="618.81,47.3 616.04,52.5 618.81,57.7" fill="#ff2200"/>
<polygon points="621.48,47.3 619.2,52.5 621.48,57.7" fill="#ff2200"/>
<polygon points="626.42,49.65 625.83,49.65 625.83,47.3 622.37,52.5 625.83,57.7 625.83,55.35 626.42,55.35" fill="#ff2200"/>
<polygon points="629.59,47.3 627.31,52.5 629.59,57.7" fill="#ff2200"/>
<polygon points="635.42,49.65 633.44,49.65 633.44,47.3 629.98,52.5 633.44,57.7 633.44,55.35 635.42,55.35" fill="#ff2200"/>
<polygon points="635.42,49.65 636.01,49.65 636.01,47.3 639.48,52.5 636.01,57.7 636.01,55.35 635.42,55.35" fill="#ff8c00"/>
<polygon points="642.54,47.3 639.87,52.5 642.54,57.7" fill="#ff2200"/>
<polygon points="651.15,49.65 650.55,49.65 650.55,47.3 647.09,52.5 650.55,57.7 650.55,55.35 651.15,55.35" fill="#ff2200"/>
<polygon points="655.4,47.3 652.43,52.5 655.4,57.7" fill="#ff8c00"/>
<polygon points="659.16,47.3 656.98,52.5 659.16,57.7" fill="#ff8c00"/>
<line x1="431.4" y1="100.8" x2="610.8" y2="100.8" stroke="#1e1e1e" stroke-width="1.5"/>
<polygon points="434.5,95.6 436.1,100.8 434.5,106" fill="#ff8c00"/>
<polygon points="436.8,95.6 438.6,100.8 436.8,106" fill="#ff8c00" fill-opacity="0.72"/>
<polygon points="438.6,95.6 440.4,100.8 438.6,106" fill="#ff8c00" fill-opacity="0.72"/>
<polygon points="440.4,95.6 442.3,100.8 440.4,106" fill="#ff8c00" fill-opacity="0.72"/>
<polygon points="445,95.6 447.3,100.8 445,106" fill="#ff8c00" fill-opacity="0.96"/>
<polygon points="448,95.6 449.5,100.8 448,106" fill="#ff8c00"/>
<polygon points="449.5,95.6 451.8,100.8 449.5,106" fill="#ff8c00" fill-opacity="0.72"/>
<polygon points="452.7,95.6 455,100.8 452.7,106" fill="#ff8c00"/>
<polygon points="456.9,95.6 458.7,100.8 456.9,106" fill="#ff8c00" fill-opacity="0.84"/>
<polygon points="458.7,95.6 460.5,100.8 458.7,106" fill="#ff8c00" fill-opacity="0.84"/>
<polygon points="460.5,95.6 463.3,100.8 460.5,106" fill="#ff8c00"/>
<polygon points="463.7,97.95 464.8,97.95 464.8,95.6 468.3,100.8 464.8,106 464.8,103.65 463.7,103.65" fill="#ff8c00"/>
<polygon points="468.7,95.6 470.5,100.8 468.7,106" fill="#ff8c00" fill-opacity="0.9"/>
<polygon points="471,95.6 474.2,100.8 471,106" fill="#ff8c00"/>
<polygon points="475,95.6 476.8,100.8 475,106" fill="#ff8c00" fill-opacity="0.78"/>
<polygon points="476.8,95.6 478.7,100.8 476.8,106" fill="#ff8c00" fill-opacity="0.78"/>
<polygon points="479.6,95.6 481.9,100.8 479.6,106" fill="#ff8c00"/>
<polygon points="485,97.95 489.9,97.95 489.9,95.6 493.4,100.8 489.9,106 489.9,103.65 485,103.65" fill="#ff8c00"/>
<polygon points="493.8,95.6 495.2,100.8 493.8,106" fill="#ff8c00" fill-opacity="0.9"/>
<polygon points="495.2,95.6 497.5,100.8 495.2,106" fill="#ff8c00"/>
<polygon points="497.9,95.6 501.1,100.8 497.9,106" fill="#ff8c00"/>
<polygon points="501.5,95.6 503.4,100.8 501.5,106" fill="#ff8c00"/>
<polygon points="503.8,97.95 506.7,97.95 506.7,95.6 510.2,100.8 506.7,106 506.7,103.65 503.8,103.65" fill="#ff8c00"/>
<polygon points="510.7,95.6 513,100.8 510.7,106" fill="#ff8c00" fill-opacity="0.9"/>
<polygon points="513.9,95.6 517.1,100.8 513.9,106" fill="#ff8c00"/>
<polygon points="517.5,95.6 520.3,100.8 517.5,106" fill="#ff8c00" fill-opacity="0.9"/>
<polygon points="520.3,95.6 522.5,100.8 520.3,106" fill="#ff8c00" fill-opacity="0.9"/>
<polygon points="523,95.6 526.2,100.8 523,106" fill="#ff8c00"/>
<polygon points="527.1,97.95 532.7,97.95 532.7,95.6 536.2,100.8 532.7,106 532.7,103.65 527.1,103.65" fill="#ff8c00"/>
<polygon points="536.7,95.6 539,100.8 536.7,106" fill="#ff8c00"/>
<polygon points="539.9,95.6 542.2,100.8 539.9,106" fill="#ff8c00"/>
<polygon points="543.5,97.95 547.8,97.95 547.8,95.6 551.3,100.8 547.8,106 547.8,103.65 543.5,103.65" fill="#ff8c00"/>
<polygon points="552,97.95 566.7,97.95 566.7,95.6 570.2,100.8 566.7,106 566.7,103.65 552,103.65" fill="#ff8c00"/>
<polygon points="570.9,95.6 573.1,100.8 570.9,106" fill="#ff8c00"/>
<polygon points="573.8,95.6 575.9,100.8 573.8,106" fill="#ff8c00"/>
<polygon points="580.2,95.6 577.2,100.8 580.2,106" fill="#ff8c00"/>
<polygon points="585,95.6 581.5,100.8 585,106" fill="#ff8c00"/>
<polygon points="589,95.6 586,100.8 589,106" fill="#ff8c00"/>
<polygon points="589,95.6 592,100.8 589,106" fill="#ff8c00"/>
<polygon points="591.9,95.6 594.6,100.8 591.9,106" fill="#ff8c00"/>
<polygon points="594.6,95.6 596.9,100.8 594.6,106" fill="#ff8c00"/>
<polygon points="596.9,95.6 599.6,100.8 596.9,106" fill="#ff8c00"/>
<polygon points="599.6,95.6 603.3,100.8 599.6,106" fill="#ff8c00"/>
<polygon points="605.8,95.6 607.8,100.8 605.8,106" fill="#ff8c00"/>
<polygon points="609.9,95.6 608.3,100.8 609.9,106" fill="#ff8c00"/>
<text class="sl" transform="translate(340.9,52.91) scale(0.7635,1)" font-size="5.5">Strain Marseille-P1025</text>
<text class="sl" transform="translate(340.9,100.11) scale(0.7559,1)" font-size="5.5">Strain 2-156-04_S1_C1</text>
<rect x="637.4" y="107.6" width="4.9" height="34.3" fill="url(#gB)"/>
<text class="lg" transform="translate(643.2,112.5) scale(0.7385,1)" font-size="5.4">100%</text>
<text class="lg" transform="translate(643.2,142.1) scale(0.8142,1)" font-size="5.4">70%</text>
<text class="pl" transform="translate(345.8,130.15) scale(0.86,1)" font-size="5.6">B</text>
<g class="gl"><text transform="translate(51.61,223.7) scale(0.2250,0.2476) rotate(-90)" font-size="21.8">PROKKA<tspan dx="3.2">_</tspan><tspan dx="2.4" font-size="21.6">05134</tspan></text>
<text transform="translate(57.74,223.7) scale(0.2250,0.2476) rotate(-90)" font-size="21.8">PROKKA<tspan dx="3.2">_</tspan><tspan dx="2.4" font-size="21.6">05136</tspan></text>
<text transform="translate(63.67,223.7) scale(0.2250,0.2476) rotate(-90)" font-size="21.8">PROKKA<tspan dx="3.2">_</tspan><tspan dx="2.4" font-size="21.6">05138</tspan></text>
<text transform="translate(69.8,223.7) scale(0.2250,0.2476) rotate(-90)" font-size="21.8">PROKKA<tspan dx="3.2">_</tspan><tspan dx="2.4" font-size="21.6">05141</tspan></text>
<text transform="translate(75.74,223.7) scale(0.2250,0.2476) rotate(-90)" font-size="21.8">PROKKA<tspan dx="3.2">_</tspan><tspan dx="2.4" font-size="21.6">05143</tspan></text>
<text transform="translate(81.18,223.7) scale(0.2250,0.2476) rotate(-90)" font-size="21.8">PROKKA<tspan dx="3.2">_</tspan><tspan dx="2.4" font-size="21.6">05145</tspan></text>
<text transform="translate(89.68,223.7) scale(0.2250,0.2476) rotate(-90)" font-size="21.8">PROKKA<tspan dx="3.2">_</tspan><tspan dx="2.4" font-size="21.6">05150</tspan></text>
<text transform="translate(95.32,223.7) scale(0.2250,0.2476) rotate(-90)" font-size="21.8">PROKKA<tspan dx="3.2">_</tspan><tspan dx="2.4" font-size="21.6">05151</tspan></text>
<text transform="translate(105.41,223.7) scale(0.2250,0.2476) rotate(-90)" font-size="21.8">PROKKA<tspan dx="3.2">_</tspan><tspan dx="2.4" font-size="21.6">05154</tspan></text>
<text transform="translate(114.7,223.7) scale(0.2250,0.2476) rotate(-90)" font-size="21.8">PROKKA<tspan dx="3.2">_</tspan><tspan dx="2.4" font-size="21.6">05157</tspan></text>
<text transform="translate(124.2,223.7) scale(0.2250,0.2476) rotate(-90)" font-size="21.8">PROKKA<tspan dx="3.2">_</tspan><tspan dx="2.4" font-size="21.6">05162</tspan></text>
<text transform="translate(130.23,223.7) scale(0.2250,0.2476) rotate(-90)" font-size="21.8">PROKKA<tspan dx="3.2">_</tspan><tspan dx="2.4" font-size="21.6">05165</tspan></text>
<text transform="translate(138.44,223.7) scale(0.2250,0.2476) rotate(-90)" font-size="21.8">PROKKA<tspan dx="3.2">_</tspan><tspan dx="2.4" font-size="21.6">05166</tspan></text>
<text transform="translate(146.75,223.7) scale(0.2250,0.2476) rotate(-90)" font-size="21.8">PROKKA<tspan dx="3.2">_</tspan><tspan dx="2.4" font-size="21.6">05168</tspan></text>
<text transform="translate(152.68,223.7) scale(0.2250,0.2476) rotate(-90)" font-size="21.8">PROKKA<tspan dx="3.2">_</tspan><tspan dx="2.4" font-size="21.6">05169</tspan></text>
<text transform="translate(166.92,223.7) scale(0.2250,0.2476) rotate(-90)" font-size="21.8">PROKKA<tspan dx="3.2">_</tspan><tspan dx="2.4" font-size="21.6">05170</tspan></text>
<text transform="translate(177.41,223.7) scale(0.2250,0.2476) rotate(-90)" font-size="21.8">PROKKA<tspan dx="3.2">_</tspan><tspan dx="2.4" font-size="21.6">05171</tspan></text>
<text transform="translate(185.22,223.7) scale(0.2250,0.2476) rotate(-90)" font-size="21.8">PROKKA<tspan dx="3.2">_</tspan><tspan dx="2.4" font-size="21.6">05174</tspan></text>
<text transform="translate(190.96,223.7) scale(0.2250,0.2476) rotate(-90)" font-size="21.8">PROKKA<tspan dx="3.2">_</tspan><tspan dx="2.4" font-size="21.6">05176</tspan></text>
<text transform="translate(200.65,223.7) scale(0.2250,0.2476) rotate(-90)" font-size="21.8">PROKKA<tspan dx="3.2">_</tspan><tspan dx="2.4" font-size="21.6">05180</tspan></text>
<text transform="translate(209.95,223.7) scale(0.2250,0.2476) rotate(-90)" font-size="21.8">PROKKA<tspan dx="3.2">_</tspan><tspan dx="2.4" font-size="21.6">05182</tspan></text>
<text transform="translate(216.77,223.7) scale(0.2250,0.2476) rotate(-90)" font-size="21.8">PROKKA<tspan dx="3.2">_</tspan><tspan dx="2.4" font-size="21.6">05185</tspan></text>
<text transform="translate(223.69,223.7) scale(0.2250,0.2476) rotate(-90)" font-size="21.8">PROKKA<tspan dx="3.2">_</tspan><tspan dx="2.4" font-size="21.6">05187</tspan></text>
<text transform="translate(234.97,223.7) scale(0.2250,0.2476) rotate(-90)" font-size="21.8">PROKKA<tspan dx="3.2">_</tspan><tspan dx="2.4" font-size="21.6">05191</tspan></text>
<text transform="translate(243.37,223.7) scale(0.2250,0.2476) rotate(-90)" font-size="21.8">PROKKA<tspan dx="3.2">_</tspan><tspan dx="2.4" font-size="21.6">05193</tspan></text>
<text transform="translate(250.89,223.7) scale(0.2250,0.2476) rotate(-90)" font-size="21.8">PROKKA<tspan dx="3.2">_</tspan><tspan dx="2.4" font-size="21.6">05194</tspan></text>
<text transform="translate(260.29,223.7) scale(0.2250,0.2476) rotate(-90)" font-size="21.8">PROKKA<tspan dx="3.2">_</tspan><tspan dx="2.4" font-size="21.6">05196</tspan></text>
<text transform="translate(266.81,223.7) scale(0.2250,0.2476) rotate(-90)" font-size="21.8">PROKKA<tspan dx="3.2">_</tspan><tspan dx="2.4" font-size="21.6">05197</tspan></text>
<text transform="translate(274.23,223.7) scale(0.2250,0.2476) rotate(-90)" font-size="21.8">PROKKA<tspan dx="3.2">_</tspan><tspan dx="2.4" font-size="21.6">05199</tspan></text>
<text transform="translate(284.61,223.7) scale(0.2250,0.2476) rotate(-90)" font-size="21.8">PROKKA<tspan dx="3.2">_</tspan><tspan dx="2.4" font-size="21.6">05203</tspan></text>
<text transform="translate(292.43,223.7) scale(0.2250,0.2476) rotate(-90)" font-size="21.8">PROKKA<tspan dx="3.2">_</tspan><tspan dx="2.4" font-size="21.6">05206</tspan></text>
<text transform="translate(299.55,223.7) scale(0.2250,0.2476) rotate(-90)" font-size="21.8">PROKKA<tspan dx="3.2">_</tspan><tspan dx="2.4" font-size="21.6">05208</tspan></text>
<text transform="translate(309.83,223.7) scale(0.2250,0.2476) rotate(-90)" font-size="21.8">PROKKA<tspan dx="3.2">_</tspan><tspan dx="2.4" font-size="21.6">05210</tspan></text>
<text transform="translate(318.34,223.7) scale(0.2250,0.2476) rotate(-90)" font-size="21.8">PROKKA<tspan dx="3.2">_</tspan><tspan dx="2.4" font-size="21.6">05214</tspan></text></g>
<polygon points="44.5,235.6 51,235.6 97,270.6 89.3,270.6" fill="#ececec"/>
<polygon points="51,235.6 63.7,235.6 106.8,270.6 97,270.6" fill="#a6a6a6"/>
<polygon points="65.7,235.6 82.2,235.6 125.3,270.6 108.8,270.6" fill="#989898"/>
<polygon points="83.2,235.6 109.7,235.6 152.8,270.6 126.3,270.6" fill="#b3b3b3"/>
<polygon points="110.7,235.6 116.7,235.6 159.8,270.6 153.8,270.6" fill="#a9a9a9"/>
<polygon points="118.4,235.6 142.7,235.6 188,270.6 161.5,270.6" fill="#9e9e9e"/>
<polygon points="144.2,235.6 179.9,235.6 231.8,270.6 189.5,270.6" fill="#a7a7a7"/>
<polygon points="293.5,235.6 298.3,235.6 263.5,270.6 260,270.6" fill="#b8b8b8"/>
<line x1="45" y1="235.6" x2="90.2" y2="270.6" stroke="#6e6e6e" stroke-width="0.75"/>
<line x1="47.3" y1="235.6" x2="92.6" y2="270.6" stroke="#b4b4b4" stroke-width="0.45"/>
<line x1="49.5" y1="235.6" x2="95.4" y2="270.6" stroke="#d0d0d0" stroke-width="0.4"/>
<line x1="54.7" y1="235.6" x2="100" y2="270.6" stroke="#e6e6e6" stroke-width="0.35"/>
<line x1="59.7" y1="235.6" x2="103.5" y2="270.6" stroke="#8a8a8a" stroke-width="0.3"/>
<line x1="72.7" y1="235.6" x2="116" y2="270.6" stroke="#a8a8a8" stroke-width="0.35"/>
<line x1="76.7" y1="235.6" x2="120" y2="270.6" stroke="#dedede" stroke-width="0.3"/>
<line x1="89.7" y1="235.6" x2="133" y2="270.6" stroke="#d8d8d8" stroke-width="0.35"/>
<line x1="96.2" y1="235.6" x2="139.5" y2="270.6" stroke="#e2e2e2" stroke-width="0.35"/>
<line x1="102.7" y1="235.6" x2="146" y2="270.6" stroke="#c8c8c8" stroke-width="0.3"/>
<line x1="124.7" y1="235.6" x2="168" y2="270.6" stroke="#b5b5b5" stroke-width="0.3"/>
<line x1="131.7" y1="235.6" x2="175.5" y2="270.6" stroke="#dadada" stroke-width="0.3"/>
<line x1="136.7" y1="235.6" x2="181" y2="270.6" stroke="#ababab" stroke-width="0.3"/>
<line x1="57.2" y1="235.6" x2="102" y2="270.6" stroke="#f2f2f2" stroke-width="0.35"/>
<line x1="85.7" y1="235.6" x2="129" y2="270.6" stroke="#f0f0f0" stroke-width="0.3"/>
<line x1="113.7" y1="235.6" x2="156.5" y2="270.6" stroke="#f4f4f4" stroke-width="0.3"/>
<line x1="147.7" y1="235.6" x2="193" y2="270.6" stroke="#e8e8e8" stroke-width="0.3"/>
<line x1="151.7" y1="235.6" x2="198" y2="270.6" stroke="#d8d8d8" stroke-width="0.3"/>
<line x1="42.82" y1="229.7" x2="318.55" y2="229.7" stroke="#1e1e1e" stroke-width="1.5"/>
<polygon points="43.41,224.5 45.29,229.7 43.41,234.9" fill="#ff2200" fill-opacity="0.66"/>
<polygon points="44.99,224.5 47.66,229.7 44.99,234.9" fill="#ff8c00" fill-opacity="0.72"/>
<polygon points="47.66,224.5 50.83,229.7 47.66,234.9" fill="#ff8c00"/>
<polygon points="54.39,224.5 52.61,229.7 54.39,234.9" fill="#ff8c00" fill-opacity="0.84"/>
<polygon points="54.39,224.5 56.66,229.7 54.39,234.9" fill="#ff8c00"/>
<polygon points="56.66,224.5 58.44,229.7 56.66,234.9" fill="#ff8c00" fill-opacity="0.84"/>
<polygon points="58.44,224.5 59.83,229.7 58.44,234.9" fill="#ff8c00"/>
<polygon points="59.83,224.5 62.99,229.7 59.83,234.9" fill="#ff8c00"/>
<polygon points="64.77,224.5 66.35,229.7 64.77,234.9" fill="#ff8c00" fill-opacity="0.72"/>
<polygon points="66.35,224.5 67.94,229.7 66.35,234.9" fill="#ff8c00" fill-opacity="0.72"/>
<polygon points="67.94,224.5 68.93,229.7 67.94,234.9" fill="#ff8c00"/>
<polygon points="68.93,224.5 71.99,229.7 68.93,234.9" fill="#ff8c00"/>
<polygon points="71.99,226.85 73.08,226.85 73.08,224.5 76.54,229.7 73.08,234.9 73.08,232.55 71.99,232.55" fill="#ff8c00"/>
<polygon points="76.54,224.5 78.42,229.7 76.54,234.9" fill="#ff8c00" fill-opacity="0.96"/>
<polygon points="78.42,224.5 80.6,229.7 78.42,234.9" fill="#ff8c00" fill-opacity="0.96"/>
<polygon points="81.49,224.5 82.97,229.7 81.49,234.9" fill="#ff8c00" fill-opacity="0.66"/>
<polygon points="82.97,224.5 84.35,229.7 82.97,234.9" fill="#ff8c00" fill-opacity="0.66"/>
<polygon points="84.35,224.5 85.84,229.7 84.35,234.9" fill="#ff8c00" fill-opacity="0.66"/>
<polygon points="85.84,224.5 87.32,229.7 85.84,234.9" fill="#ff8c00" fill-opacity="0.66"/>
<polygon points="88.21,226.85 93.75,226.85 93.75,224.5 97.21,229.7 93.75,234.9 93.75,232.55 88.21,232.55" fill="#ff8c00"/>
<polygon points="96.91,224.5 98.69,229.7 96.91,234.9" fill="#ff8c00" fill-opacity="0.84"/>
<polygon points="98.69,224.5 100.97,229.7 98.69,234.9" fill="#ff8c00"/>
<polygon points="100.97,224.5 104.63,229.7 100.97,234.9" fill="#ff8c00"/>
<polygon points="104.63,224.5 106.41,229.7 104.63,234.9" fill="#ff8c00"/>
<polygon points="106.41,224.5 108.58,229.7 106.41,234.9" fill="#ff8c00" fill-opacity="0.72"/>
<polygon points="108.58,226.85 111.45,226.85 111.45,224.5 114.91,229.7 111.45,234.9 111.45,232.55 108.58,232.55" fill="#ff8c00"/>
<polygon points="114.91,224.5 117.58,229.7 114.91,234.9" fill="#ff8c00" fill-opacity="0.9"/>
<polygon points="117.58,224.5 119.46,229.7 117.58,234.9" fill="#ff8c00" fill-opacity="0.72"/>
<polygon points="119.46,224.5 121.44,229.7 119.46,234.9" fill="#ff8c00"/>
<polygon points="121.44,224.5 123.22,229.7 121.44,234.9" fill="#ff8c00"/>
<polygon points="123.62,224.5 126.39,229.7 123.62,234.9" fill="#ff8c00"/>
<polygon points="126.78,226.85 127.38,226.85 127.38,224.5 130.84,229.7 127.38,234.9 127.38,232.55 126.78,232.55" fill="#ff8c00"/>
<polygon points="131.73,226.85 137.27,226.85 137.27,224.5 140.73,229.7 137.27,234.9 137.27,232.55 131.73,232.55" fill="#ff8c00"/>
<polygon points="141.22,224.5 143,229.7 141.22,234.9" fill="#ff8c00"/>
<polygon points="143.4,224.5 145.67,229.7 143.4,234.9" fill="#ff8c00"/>
<polygon points="147.35,226.85 151.61,226.85 151.61,224.5 155.07,229.7 151.61,234.9 151.61,232.55 147.35,232.55" fill="#ff8c00"/>
<polygon points="155.46,226.85 170.4,226.85 170.4,224.5 173.86,229.7 170.4,234.9 170.4,232.55 155.46,232.55" fill="#ff8c00"/>
<polygon points="174.16,224.5 176.43,229.7 174.16,234.9" fill="#ff8c00"/>
<polygon points="177.32,224.5 179.6,229.7 177.32,234.9" fill="#ff8c00"/>
<polygon points="179.6,224.5 181.38,229.7 179.6,234.9" fill="#ff8c00" fill-opacity="0.9"/>
<polygon points="181.77,224.5 184.54,229.7 181.77,234.9" fill="#ff8c00"/>
<polygon points="184.94,224.5 187.21,229.7 184.94,234.9" fill="#ff8c00"/>
<polygon points="187.21,224.5 189.49,229.7 187.21,234.9" fill="#ff8c00" fill-opacity="0.9"/>
<polygon points="189.88,224.5 192.16,229.7 189.88,234.9" fill="#ff8c00"/>
<polygon points="192.16,224.5 194.43,229.7 192.16,234.9" fill="#ff8c00"/>
<polygon points="194.43,224.5 196.21,229.7 194.43,234.9" fill="#ff8c00" fill-opacity="0.66"/>
<polygon points="196.9,224.5 200.36,229.7 196.9,234.9" fill="#ff8c00"/>
<polygon points="207.58,224.5 206,229.7 207.58,234.9" fill="#ff2200"/>
<polygon points="207.58,224.5 209.07,229.7 207.58,234.9" fill="#ff8c00"/>
<polygon points="210.95,224.5 212.92,229.7 210.95,234.9" fill="#ff2200"/>
<polygon points="215.89,224.5 213.81,229.7 215.89,234.9" fill="#ff8c00"/>
<polygon points="215.89,224.5 217.87,229.7 215.89,234.9" fill="#ff8c00"/>
<polygon points="225.09,226.85 222.22,226.85 222.22,224.5 218.76,229.7 222.22,234.9 222.22,232.55 225.09,232.55" fill="#ff2200"/>
<polygon points="224.79,224.5 226.47,229.7 224.79,234.9" fill="#ff2200" fill-opacity="0.72"/>
<polygon points="227.76,224.5 229.34,229.7 227.76,234.9" fill="#ff2200" fill-opacity="0.9"/>
<polygon points="229.34,224.5 231.02,229.7 229.34,234.9" fill="#ff2200" fill-opacity="0.9"/>
<polygon points="231.72,224.5 234.58,229.7 231.72,234.9" fill="#ff2200"/>
<polygon points="234.58,224.5 236.36,229.7 234.58,234.9" fill="#ff8c00" fill-opacity="0.6"/>
<polygon points="236.36,226.85 242.79,226.85 242.79,224.5 246.25,229.7 242.79,234.9 242.79,232.55 236.36,232.55" fill="#ff2200"/>
<polygon points="248.53,224.5 251.69,229.7 248.53,234.9" fill="#ff2200"/>
<polygon points="255.55,224.5 253.37,229.7 255.55,234.9" fill="#ff2200"/>
<polygon points="262.57,226.85 259.7,226.85 259.7,224.5 256.24,229.7 259.7,234.9 259.7,232.55 262.57,232.55" fill="#ff2200"/>
<polygon points="266.63,224.5 265.24,229.7 266.63,234.9" fill="#ff2200" fill-opacity="0.78"/>
<polygon points="269.79,224.5 266.63,229.7 269.79,234.9" fill="#ff2200"/>
<polygon points="274.24,226.85 273.65,226.85 273.65,224.5 270.19,229.7 273.65,234.9 273.65,232.55 274.24,232.55" fill="#ff2200"/>
<polygon points="277.51,224.5 274.74,229.7 277.51,234.9" fill="#ff2200"/>
<polygon points="280.18,224.5 277.9,229.7 280.18,234.9" fill="#ff2200"/>
<polygon points="285.12,226.85 284.53,226.85 284.53,224.5 281.07,229.7 284.53,234.9 284.53,232.55 285.12,232.55" fill="#ff2200"/>
<polygon points="288.29,224.5 286.01,229.7 288.29,234.9" fill="#ff2200"/>
<polygon points="294.12,226.85 292.14,226.85 292.14,224.5 288.68,229.7 292.14,234.9 292.14,232.55 294.12,232.55" fill="#ff2200"/>
<polygon points="294.12,226.85 294.71,226.85 294.71,224.5 298.18,229.7 294.71,234.9 294.71,232.55 294.12,232.55" fill="#ff8c00"/>
<polygon points="301.24,224.5 298.57,229.7 301.24,234.9" fill="#ff2200"/>
<polygon points="309.85,226.85 309.25,226.85 309.25,224.5 305.79,229.7 309.25,234.9 309.25,232.55 309.85,232.55" fill="#ff2200"/>
<polygon points="314.1,224.5 311.13,229.7 314.1,234.9" fill="#ff8c00"/>
<polygon points="317.86,224.5 315.68,229.7 317.86,234.9" fill="#ff8c00"/>
<line x1="91.8" y1="275.9" x2="268.2" y2="275.9" stroke="#1e1e1e" stroke-width="1.5"/>
<polygon points="92.8,270.7 94.6,275.9 92.8,281.1" fill="#ff8c00" fill-opacity="0.72"/>
<polygon points="94.6,270.7 96.4,275.9 94.6,281.1" fill="#ff8c00" fill-opacity="0.72"/>
<polygon points="96.4,270.7 98.3,275.9 96.4,281.1" fill="#ff8c00" fill-opacity="0.72"/>
<polygon points="101,270.7 103.3,275.9 101,281.1" fill="#ff8c00" fill-opacity="0.96"/>
<polygon points="104,270.7 105.5,275.9 104,281.1" fill="#ff8c00"/>
<polygon points="105.5,270.7 107.8,275.9 105.5,281.1" fill="#ff8c00" fill-opacity="0.72"/>
<polygon points="108.7,270.7 111,275.9 108.7,281.1" fill="#ff8c00"/>
<polygon points="112.9,270.7 114.7,275.9 112.9,281.1" fill="#ff8c00" fill-opacity="0.84"/>
<polygon points="114.7,270.7 116.5,275.9 114.7,281.1" fill="#ff8c00" fill-opacity="0.84"/>
<polygon points="116.5,270.7 119.3,275.9 116.5,281.1" fill="#ff8c00"/>
<polygon points="119.7,273.05 120.8,273.05 120.8,270.7 124.3,275.9 120.8,281.1 120.8,278.75 119.7,278.75" fill="#ff8c00"/>
<polygon points="124.7,270.7 126.5,275.9 124.7,281.1" fill="#ff8c00" fill-opacity="0.9"/>
<polygon points="127,270.7 130.2,275.9 127,281.1" fill="#ff8c00"/>
<polygon points="131,270.7 132.8,275.9 131,281.1" fill="#ff8c00" fill-opacity="0.78"/>
<polygon points="132.8,270.7 134.7,275.9 132.8,281.1" fill="#ff8c00" fill-opacity="0.78"/>
<polygon points="135.6,270.7 137.9,275.9 135.6,281.1" fill="#ff8c00"/>
<polygon points="141,273.05 145.9,273.05 145.9,270.7 149.4,275.9 145.9,281.1 145.9,278.75 141,278.75" fill="#ff8c00"/>
<polygon points="149.8,270.7 151.2,275.9 149.8,281.1" fill="#ff8c00" fill-opacity="0.9"/>
<polygon points="151.2,270.7 153.5,275.9 151.2,281.1" fill="#ff8c00"/>
<polygon points="153.9,270.7 157.1,275.9 153.9,281.1" fill="#ff8c00"/>
<polygon points="157.5,270.7 159.4,275.9 157.5,281.1" fill="#ff8c00"/>
<polygon points="159.8,273.05 162.7,273.05 162.7,270.7 166.2,275.9 162.7,281.1 162.7,278.75 159.8,278.75" fill="#ff8c00"/>
<polygon points="166.7,270.7 169,275.9 166.7,281.1" fill="#ff8c00" fill-opacity="0.9"/>
<polygon points="169.9,270.7 173.1,275.9 169.9,281.1" fill="#ff8c00"/>
<polygon points="173.5,270.7 176.3,275.9 173.5,281.1" fill="#ff8c00" fill-opacity="0.9"/>
<polygon points="176.3,270.7 178.5,275.9 176.3,281.1" fill="#ff8c00" fill-opacity="0.9"/>
<polygon points="179,270.7 182.2,275.9 179,281.1" fill="#ff8c00"/>
<polygon points="183.1,273.05 188.7,273.05 188.7,270.7 192.2,275.9 188.7,281.1 188.7,278.75 183.1,278.75" fill="#ff8c00"/>
<polygon points="192.7,270.7 195,275.9 192.7,281.1" fill="#ff8c00"/>
<polygon points="195.9,270.7 198.2,275.9 195.9,281.1" fill="#ff8c00"/>
<polygon points="199.5,273.05 203.8,273.05 203.8,270.7 207.3,275.9 203.8,281.1 203.8,278.75 199.5,278.75" fill="#ff8c00"/>
<polygon points="208,273.05 222.7,273.05 222.7,270.7 226.2,275.9 222.7,281.1 222.7,278.75 208,278.75" fill="#ff8c00"/>
<polygon points="226.9,270.7 229.1,275.9 226.9,281.1" fill="#ff8c00"/>
<polygon points="229.8,270.7 231.9,275.9 229.8,281.1" fill="#ff8c00"/>
<polygon points="236.2,270.7 233.2,275.9 236.2,281.1" fill="#ff8c00"/>
<polygon points="241,270.7 237.5,275.9 241,281.1" fill="#ff8c00"/>
<polygon points="245,270.7 242,275.9 245,281.1" fill="#ff8c00"/>
<polygon points="245,270.7 248,275.9 245,281.1" fill="#ff8c00"/>
<polygon points="247.9,270.7 250.6,275.9 247.9,281.1" fill="#ff8c00"/>
<polygon points="250.6,270.7 252.9,275.9 250.6,281.1" fill="#ff8c00"/>
<polygon points="252.9,270.7 255.6,275.9 252.9,281.1" fill="#ff8c00"/>
<polygon points="255.6,270.7 259.3,275.9 255.6,281.1" fill="#ff8c00"/>
<polygon points="261.8,270.7 263.8,275.9 261.8,281.1" fill="#ff8c00"/>
<polygon points="265.9,270.7 264.3,275.9 265.9,281.1" fill="#ff8c00"/>
<text class="sl" transform="translate(0.9,230.91) scale(0.7727,1)" font-size="5.5">Strain Marseille-P1025</text>
<text class="sl" transform="translate(0.9,276.51) scale(0.7725,1)" font-size="5.5">Strain 2-156-04_S1_C2</text>
<rect x="297.1" y="282.8" width="4.9" height="32.4" fill="url(#gC)"/>
<text class="lg" transform="translate(302.9,287.7) scale(0.7385,1)" font-size="5.4">100%</text>
<text class="lg" transform="translate(302.9,315.4) scale(0.8142,1)" font-size="5.4">70%</text>
<text class="pl" transform="translate(5,314.05) scale(0.86,1)" font-size="5.6">C</text>
<polygon points="431.59,190.4 584.8,190.4 545.07,215.2 392.31,215.2" fill="#6b6b6b"/>
<polyline points="552.56,215.2 596.54,190.6 655.41,215.2" fill="none" stroke="#666" stroke-width="0.55"/>
<polygon points="392.69,223.6 398.93,223.6 445.65,248.8 438.26,248.8" fill="#ececec"/>
<polygon points="398.93,223.6 411.11,223.6 455.05,248.8 445.65,248.8" fill="#a6a6a6"/>
<polygon points="413.03,223.6 428.86,223.6 472.8,248.8 456.97,248.8" fill="#989898"/>
<polygon points="429.82,223.6 455.24,223.6 499.18,248.8 473.76,248.8" fill="#b3b3b3"/>
<polygon points="456.2,223.6 461.96,223.6 505.9,248.8 500.14,248.8" fill="#a9a9a9"/>
<polygon points="463.59,223.6 486.9,223.6 532.95,248.8 507.53,248.8" fill="#9e9e9e"/>
<polygon points="488.34,223.6 522.59,223.6 574.97,248.8 534.39,248.8" fill="#a7a7a7"/>
<polygon points="631.57,223.6 636.18,223.6 605.38,248.8 602.02,248.8" fill="#b8b8b8"/>
<line x1="393.17" y1="223.6" x2="439.12" y2="248.8" stroke="#6e6e6e" stroke-width="0.75"/>
<line x1="395.38" y1="223.6" x2="441.43" y2="248.8" stroke="#b4b4b4" stroke-width="0.45"/>
<line x1="397.49" y1="223.6" x2="444.11" y2="248.8" stroke="#d0d0d0" stroke-width="0.4"/>
<line x1="402.48" y1="223.6" x2="448.53" y2="248.8" stroke="#e6e6e6" stroke-width="0.35"/>
<line x1="407.27" y1="223.6" x2="451.88" y2="248.8" stroke="#8a8a8a" stroke-width="0.3"/>
<line x1="419.75" y1="223.6" x2="463.88" y2="248.8" stroke="#a8a8a8" stroke-width="0.35"/>
<line x1="423.58" y1="223.6" x2="467.71" y2="248.8" stroke="#dedede" stroke-width="0.3"/>
<line x1="436.05" y1="223.6" x2="480.18" y2="248.8" stroke="#d8d8d8" stroke-width="0.35"/>
<line x1="442.29" y1="223.6" x2="486.42" y2="248.8" stroke="#e2e2e2" stroke-width="0.35"/>
<line x1="448.53" y1="223.6" x2="492.66" y2="248.8" stroke="#c8c8c8" stroke-width="0.3"/>
<line x1="469.63" y1="223.6" x2="513.76" y2="248.8" stroke="#b5b5b5" stroke-width="0.3"/>
<line x1="476.35" y1="223.6" x2="520.96" y2="248.8" stroke="#dadada" stroke-width="0.3"/>
<line x1="481.14" y1="223.6" x2="526.23" y2="248.8" stroke="#ababab" stroke-width="0.3"/>
<line x1="404.88" y1="223.6" x2="450.44" y2="248.8" stroke="#f2f2f2" stroke-width="0.35"/>
<line x1="432.22" y1="223.6" x2="476.35" y2="248.8" stroke="#f0f0f0" stroke-width="0.3"/>
<line x1="459.08" y1="223.6" x2="502.73" y2="248.8" stroke="#f4f4f4" stroke-width="0.3"/>
<line x1="491.7" y1="223.6" x2="537.75" y2="248.8" stroke="#e8e8e8" stroke-width="0.3"/>
<line x1="495.53" y1="223.6" x2="542.54" y2="248.8" stroke="#d8d8d8" stroke-width="0.3"/>
<polygon points="440.2,257.0 607.4,257.0 605.0,282.6 436.8,282.6" fill="#6a6a6a"/>
<g stroke="#9c9c9c" stroke-width="0.5" fill="none"><line x1="446.6" y1="257" x2="439.3" y2="282.6"/><line x1="440.6" y1="257" x2="444.6" y2="282.6"/><line x1="483.9" y1="257" x2="477.2" y2="282.6"/><line x1="470.6" y1="257" x2="468.6" y2="282.6" stroke="#7a7a7a"/><line x1="456.0" y1="257" x2="455.0" y2="282.6" stroke="#767676"/></g>
<line x1="431.4" y1="186.3" x2="611.99" y2="186.3" stroke="#1e1e1e" stroke-width="1.1"/>
<polygon points="432.83,182.4 435.41,186.3 432.83,190.2" fill="#ff8c00" fill-opacity="0.72"/>
<polygon points="435.41,182.4 438.46,186.3 435.41,190.2" fill="#ff8c00"/>
<polygon points="441.89,182.4 440.18,186.3 441.89,190.2" fill="#ff8c00" fill-opacity="0.84"/>
<polygon points="441.89,182.4 444.09,186.3 441.89,190.2" fill="#ff8c00"/>
<polygon points="444.09,182.4 445.81,186.3 444.09,190.2" fill="#ff8c00" fill-opacity="0.84"/>
<polygon points="445.81,182.4 447.14,186.3 445.81,190.2" fill="#ff8c00"/>
<polygon points="447.14,182.4 450.19,186.3 447.14,190.2" fill="#ff8c00"/>
<polygon points="451.91,182.4 453.44,186.3 451.91,190.2" fill="#ff8c00" fill-opacity="0.72"/>
<polygon points="453.44,182.4 454.96,186.3 453.44,190.2" fill="#ff8c00" fill-opacity="0.72"/>
<polygon points="454.96,182.4 455.92,186.3 454.96,190.2" fill="#ff8c00"/>
<polygon points="455.92,182.4 458.88,186.3 455.92,190.2" fill="#ff8c00"/>
<polygon points="458.88,184.1 460.31,184.1 460.31,182.4 463.26,186.3 460.31,190.2 460.31,188.5 458.88,188.5" fill="#ff8c00"/>
<polygon points="463.26,182.4 465.08,186.3 463.26,190.2" fill="#ff8c00" fill-opacity="0.96"/>
<polygon points="465.08,182.4 467.17,186.3 465.08,190.2" fill="#ff8c00" fill-opacity="0.96"/>
<polygon points="468.03,182.4 469.46,186.3 468.03,190.2" fill="#ff8c00" fill-opacity="0.66"/>
<polygon points="469.46,182.4 470.8,186.3 469.46,190.2" fill="#ff8c00" fill-opacity="0.66"/>
<polygon points="470.8,182.4 472.23,186.3 470.8,190.2" fill="#ff8c00" fill-opacity="0.66"/>
<polygon points="472.23,182.4 473.66,186.3 472.23,190.2" fill="#ff8c00" fill-opacity="0.66"/>
<polygon points="474.52,184.1 480.24,184.1 480.24,182.4 483.2,186.3 480.24,190.2 480.24,188.5 474.52,188.5" fill="#ff8c00"/>
<polygon points="482.92,182.4 484.63,186.3 482.92,190.2" fill="#ff8c00" fill-opacity="0.84"/>
<polygon points="484.63,182.4 486.83,186.3 484.63,190.2" fill="#ff8c00"/>
<polygon points="486.83,184.1 487.4,184.1 487.4,182.4 490.36,186.3 487.4,190.2 487.4,188.5 486.83,188.5" fill="#ff8c00"/>
<polygon points="490.36,182.4 492.07,186.3 490.36,190.2" fill="#ff8c00"/>
<polygon points="492.07,182.4 494.17,186.3 492.07,190.2" fill="#ff8c00" fill-opacity="0.72"/>
<polygon points="494.17,184.1 497.32,184.1 497.32,182.4 500.28,186.3 497.32,190.2 497.32,188.5 494.17,188.5" fill="#ff8c00"/>
<polygon points="500.28,182.4 502.85,186.3 500.28,190.2" fill="#ff8c00" fill-opacity="0.9"/>
<polygon points="502.85,182.4 504.67,186.3 502.85,190.2" fill="#ff8c00" fill-opacity="0.72"/>
<polygon points="504.67,182.4 506.58,186.3 504.67,190.2" fill="#ff8c00"/>
<polygon points="506.58,182.4 508.29,186.3 506.58,190.2" fill="#ff8c00"/>
<polygon points="508.67,182.4 511.35,186.3 508.67,190.2" fill="#ff8c00"/>
<polygon points="511.73,184.1 512.68,184.1 512.68,182.4 515.64,186.3 512.68,190.2 512.68,188.5 511.73,188.5" fill="#ff8c00"/>
<polygon points="516.5,184.1 522.22,184.1 522.22,182.4 525.18,186.3 522.22,190.2 522.22,188.5 516.5,188.5" fill="#ff8c00"/>
<polygon points="525.66,182.4 527.37,186.3 525.66,190.2" fill="#ff8c00"/>
<polygon points="527.75,182.4 529.95,186.3 527.75,190.2" fill="#ff8c00"/>
<polygon points="531.57,184.1 536.05,184.1 536.05,182.4 539.01,186.3 536.05,190.2 536.05,188.5 531.57,188.5" fill="#ff8c00"/>
<polygon points="539.39,184.1 554.18,184.1 554.18,182.4 557.14,186.3 554.18,190.2 554.18,188.5 539.39,188.5" fill="#ff8c00"/>
<polygon points="557.42,182.4 559.62,186.3 557.42,190.2" fill="#ff8c00"/>
<polygon points="560.48,182.4 562.67,186.3 560.48,190.2" fill="#ff8c00"/>
<polygon points="562.67,182.4 564.39,186.3 562.67,190.2" fill="#ff8c00" fill-opacity="0.9"/>
<polygon points="564.77,182.4 567.44,186.3 564.77,190.2" fill="#ff8c00"/>
<polygon points="567.82,182.4 570.02,186.3 567.82,190.2" fill="#ff8c00"/>
<polygon points="570.02,182.4 572.21,186.3 570.02,190.2" fill="#ff8c00" fill-opacity="0.9"/>
<polygon points="572.59,182.4 574.79,186.3 572.59,190.2" fill="#ff8c00"/>
<polygon points="574.79,182.4 576.98,186.3 574.79,190.2" fill="#ff8c00"/>
<polygon points="576.98,182.4 578.7,186.3 576.98,190.2" fill="#ff8c00" fill-opacity="0.66"/>
<polygon points="579.37,182.4 582.7,186.3 579.37,190.2" fill="#ff8c00"/>
<polygon points="587.19,184.1 590.34,184.1 590.34,182.4 593.29,186.3 590.34,190.2 590.34,188.5 587.19,188.5" fill="#ff8c00"/>
<polygon points="593.29,182.4 595.01,186.3 593.29,190.2" fill="#ff8c00"/>
<polygon points="599.59,182.4 596.44,186.3 599.59,190.2" fill="#ff8c00"/>
<polygon points="600.45,184.1 603.88,184.1 603.88,182.4 606.84,186.3 603.88,190.2 603.88,188.5 600.45,188.5" fill="#ff8c00"/>
<polygon points="609.13,182.4 611.23,186.3 609.13,190.2" fill="#ff8c00"/>
<line x1="391.08" y1="219.6" x2="655.6" y2="219.6" stroke="#1e1e1e" stroke-width="1.1"/>
<polygon points="391.65,215.7 393.45,219.6 391.65,223.5" fill="#ff2200" fill-opacity="0.66"/>
<polygon points="393.16,215.7 395.73,219.6 393.16,223.5" fill="#ff8c00" fill-opacity="0.72"/>
<polygon points="395.73,215.7 398.76,219.6 395.73,223.5" fill="#ff8c00"/>
<polygon points="402.18,215.7 400.47,219.6 402.18,223.5" fill="#ff8c00" fill-opacity="0.84"/>
<polygon points="402.18,215.7 404.36,219.6 402.18,223.5" fill="#ff8c00"/>
<polygon points="404.36,215.7 406.07,219.6 404.36,223.5" fill="#ff8c00" fill-opacity="0.84"/>
<polygon points="406.07,215.7 407.4,219.6 406.07,223.5" fill="#ff8c00"/>
<polygon points="407.4,215.7 410.43,219.6 407.4,223.5" fill="#ff8c00"/>
<polygon points="412.14,215.7 413.66,219.6 412.14,223.5" fill="#ff8c00" fill-opacity="0.72"/>
<polygon points="413.66,215.7 415.18,219.6 413.66,223.5" fill="#ff8c00" fill-opacity="0.72"/>
<polygon points="415.18,215.7 416.13,219.6 415.18,223.5" fill="#ff8c00"/>
<polygon points="416.13,215.7 419.07,219.6 416.13,223.5" fill="#ff8c00"/>
<polygon points="419.07,217.4 420.49,217.4 420.49,215.7 423.43,219.6 420.49,223.5 420.49,221.8 419.07,221.8" fill="#ff8c00"/>
<polygon points="423.43,215.7 425.23,219.6 423.43,223.5" fill="#ff8c00" fill-opacity="0.96"/>
<polygon points="425.23,215.7 427.32,219.6 425.23,223.5" fill="#ff8c00" fill-opacity="0.96"/>
<polygon points="428.17,215.7 429.6,219.6 428.17,223.5" fill="#ff8c00" fill-opacity="0.66"/>
<polygon points="429.6,215.7 430.93,219.6 429.6,223.5" fill="#ff8c00" fill-opacity="0.66"/>
<polygon points="430.93,215.7 432.35,219.6 430.93,223.5" fill="#ff8c00" fill-opacity="0.66"/>
<polygon points="432.35,215.7 433.77,219.6 432.35,223.5" fill="#ff8c00" fill-opacity="0.66"/>
<polygon points="434.63,217.4 440.32,217.4 440.32,215.7 443.26,219.6 440.32,223.5 440.32,221.8 434.63,221.8" fill="#ff8c00"/>
<polygon points="442.98,215.7 444.68,219.6 442.98,223.5" fill="#ff8c00" fill-opacity="0.84"/>
<polygon points="444.68,215.7 446.87,219.6 444.68,223.5" fill="#ff8c00"/>
<polygon points="446.87,217.4 447.44,217.4 447.44,215.7 450.38,219.6 447.44,223.5 447.44,221.8 446.87,221.8" fill="#ff8c00"/>
<polygon points="450.38,215.7 452.08,219.6 450.38,223.5" fill="#ff8c00"/>
<polygon points="452.08,215.7 454.17,219.6 452.08,223.5" fill="#ff8c00" fill-opacity="0.72"/>
<polygon points="454.17,217.4 457.3,217.4 457.3,215.7 460.24,219.6 457.3,223.5 457.3,221.8 454.17,221.8" fill="#ff8c00"/>
<polygon points="460.24,215.7 462.81,219.6 460.24,223.5" fill="#ff8c00" fill-opacity="0.9"/>
<polygon points="462.81,215.7 464.61,219.6 462.81,223.5" fill="#ff8c00" fill-opacity="0.72"/>
<polygon points="464.61,215.7 466.51,219.6 464.61,223.5" fill="#ff8c00"/>
<polygon points="466.51,215.7 468.21,219.6 466.51,223.5" fill="#ff8c00"/>
<polygon points="468.59,215.7 471.25,219.6 468.59,223.5" fill="#ff8c00"/>
<polygon points="471.63,217.4 472.58,217.4 472.58,215.7 475.52,219.6 472.58,223.5 472.58,221.8 471.63,221.8" fill="#ff8c00"/>
<polygon points="476.37,217.4 482.07,217.4 482.07,215.7 485.01,219.6 482.07,223.5 482.07,221.8 476.37,221.8" fill="#ff8c00"/>
<polygon points="485.48,215.7 487.19,219.6 485.48,223.5" fill="#ff8c00"/>
<polygon points="487.57,215.7 489.75,219.6 487.57,223.5" fill="#ff8c00"/>
<polygon points="491.36,217.4 495.82,217.4 495.82,215.7 498.77,219.6 495.82,223.5 495.82,221.8 491.36,221.8" fill="#ff8c00"/>
<polygon points="499.15,217.4 513.85,217.4 513.85,215.7 516.79,219.6 513.85,223.5 513.85,221.8 499.15,221.8" fill="#ff8c00"/>
<polygon points="517.08,215.7 519.26,219.6 517.08,223.5" fill="#ff8c00"/>
<polygon points="520.11,215.7 522.3,219.6 520.11,223.5" fill="#ff8c00"/>
<polygon points="522.3,215.7 524,219.6 522.3,223.5" fill="#ff8c00" fill-opacity="0.9"/>
<polygon points="524.38,215.7 527.04,219.6 524.38,223.5" fill="#ff8c00"/>
<polygon points="527.42,215.7 529.6,219.6 527.42,223.5" fill="#ff8c00"/>
<polygon points="529.6,215.7 531.78,219.6 529.6,223.5" fill="#ff8c00" fill-opacity="0.9"/>
<polygon points="532.16,215.7 534.35,219.6 532.16,223.5" fill="#ff8c00"/>
<polygon points="534.35,215.7 536.53,219.6 534.35,223.5" fill="#ff8c00"/>
<polygon points="536.53,215.7 538.24,219.6 536.53,223.5" fill="#ff8c00" fill-opacity="0.66"/>
<polygon points="538.9,215.7 542.22,219.6 538.9,223.5" fill="#ff8c00"/>
<polygon points="549.15,215.7 547.63,219.6 549.15,223.5" fill="#ff2200"/>
<polygon points="549.15,215.7 550.57,219.6 549.15,223.5" fill="#ff8c00"/>
<polygon points="552.37,215.7 554.27,219.6 552.37,223.5" fill="#ff2200"/>
<polygon points="557.12,215.7 555.12,219.6 557.12,223.5" fill="#ff8c00"/>
<polygon points="557.12,215.7 559.01,219.6 557.12,223.5" fill="#ff8c00"/>
<polygon points="565.94,217.4 562.81,217.4 562.81,215.7 559.87,219.6 562.81,223.5 562.81,221.8 565.94,221.8" fill="#ff2200"/>
<polygon points="565.66,215.7 567.27,219.6 565.66,223.5" fill="#ff2200" fill-opacity="0.72"/>
<polygon points="568.5,215.7 570.02,219.6 568.5,223.5" fill="#ff2200" fill-opacity="0.9"/>
<polygon points="570.02,215.7 571.63,219.6 570.02,223.5" fill="#ff2200" fill-opacity="0.9"/>
<polygon points="572.3,215.7 575.05,219.6 572.3,223.5" fill="#ff2200"/>
<polygon points="575.05,215.7 576.76,219.6 575.05,223.5" fill="#ff8c00" fill-opacity="0.6"/>
<polygon points="576.76,217.4 583.3,217.4 583.3,215.7 586.24,219.6 583.3,223.5 583.3,221.8 576.76,221.8" fill="#ff2200"/>
<polygon points="588.43,215.7 591.46,219.6 588.43,223.5" fill="#ff2200"/>
<polygon points="595.16,215.7 593.08,219.6 595.16,223.5" fill="#ff2200"/>
<polygon points="601.9,217.4 598.77,217.4 598.77,215.7 595.83,219.6 598.77,223.5 598.77,221.8 601.9,221.8" fill="#ff2200"/>
<polygon points="605.79,215.7 604.46,219.6 605.79,223.5" fill="#ff2200" fill-opacity="0.78"/>
<polygon points="608.83,215.7 605.79,219.6 608.83,223.5" fill="#ff2200"/>
<polygon points="613.1,217.4 612.15,217.4 612.15,215.7 609.21,219.6 612.15,223.5 612.15,221.8 613.1,221.8" fill="#ff2200"/>
<polygon points="616.23,215.7 613.57,219.6 616.23,223.5" fill="#ff2200"/>
<polygon points="618.79,215.7 616.61,219.6 618.79,223.5" fill="#ff2200"/>
<polygon points="623.53,217.4 622.58,217.4 622.58,215.7 619.64,219.6 622.58,223.5 622.58,221.8 623.53,221.8" fill="#ff2200"/>
<polygon points="626.57,215.7 624.39,219.6 626.57,223.5" fill="#ff2200"/>
<polygon points="632.17,217.4 629.89,217.4 629.89,215.7 626.95,219.6 629.89,223.5 629.89,221.8 632.17,221.8" fill="#ff2200"/>
<polygon points="632.17,217.4 633.12,217.4 633.12,215.7 636.06,219.6 633.12,223.5 633.12,221.8 632.17,221.8" fill="#ff8c00"/>
<polygon points="639,215.7 636.44,219.6 639,223.5" fill="#ff2200"/>
<polygon points="647.25,217.4 646.3,217.4 646.3,215.7 643.36,219.6 646.3,223.5 646.3,221.8 647.25,221.8" fill="#ff2200"/>
<polygon points="651.33,215.7 648.49,219.6 651.33,223.5" fill="#ff8c00"/>
<polygon points="654.94,215.7 652.85,219.6 654.94,223.5" fill="#ff8c00"/>
<line x1="436.44" y1="252.9" x2="608.55" y2="252.9" stroke="#1e1e1e" stroke-width="1.1"/>
<polygon points="439.41,249 440.95,252.9 439.41,256.8" fill="#ff8c00"/>
<polygon points="441.62,249 443.35,252.9 441.62,256.8" fill="#ff8c00" fill-opacity="0.72"/>
<polygon points="443.35,249 445.07,252.9 443.35,256.8" fill="#ff8c00" fill-opacity="0.72"/>
<polygon points="445.07,249 446.9,252.9 445.07,256.8" fill="#ff8c00" fill-opacity="0.72"/>
<polygon points="449.49,249 451.69,252.9 449.49,256.8" fill="#ff8c00" fill-opacity="0.96"/>
<polygon points="452.36,249 453.8,252.9 452.36,256.8" fill="#ff8c00"/>
<polygon points="453.8,249 456.01,252.9 453.8,256.8" fill="#ff8c00" fill-opacity="0.72"/>
<polygon points="456.87,249 459.08,252.9 456.87,256.8" fill="#ff8c00"/>
<polygon points="460.9,249 462.63,252.9 460.9,256.8" fill="#ff8c00" fill-opacity="0.84"/>
<polygon points="462.63,249 464.36,252.9 462.63,256.8" fill="#ff8c00" fill-opacity="0.84"/>
<polygon points="464.36,249 467.04,252.9 464.36,256.8" fill="#ff8c00"/>
<polygon points="467.43,250.7 468.86,250.7 468.86,249 471.84,252.9 468.86,256.8 468.86,255.1 467.43,255.1" fill="#ff8c00"/>
<polygon points="472.22,249 473.95,252.9 472.22,256.8" fill="#ff8c00" fill-opacity="0.9"/>
<polygon points="474.43,249 477.5,252.9 474.43,256.8" fill="#ff8c00"/>
<polygon points="478.27,249 479.99,252.9 478.27,256.8" fill="#ff8c00" fill-opacity="0.78"/>
<polygon points="479.99,249 481.82,252.9 479.99,256.8" fill="#ff8c00" fill-opacity="0.78"/>
<polygon points="482.68,249 484.89,252.9 482.68,256.8" fill="#ff8c00"/>
<polygon points="487.86,250.7 492.94,250.7 492.94,249 495.92,252.9 492.94,256.8 492.94,255.1 487.86,255.1" fill="#ff8c00"/>
<polygon points="496.3,249 497.65,252.9 496.3,256.8" fill="#ff8c00" fill-opacity="0.9"/>
<polygon points="497.65,249 499.85,252.9 497.65,256.8" fill="#ff8c00"/>
<polygon points="500.24,249 503.31,252.9 500.24,256.8" fill="#ff8c00"/>
<polygon points="503.69,249 505.51,252.9 503.69,256.8" fill="#ff8c00"/>
<polygon points="505.9,250.7 509.06,250.7 509.06,249 512.04,252.9 509.06,256.8 509.06,255.1 505.9,255.1" fill="#ff8c00"/>
<polygon points="512.52,249 514.72,252.9 512.52,256.8" fill="#ff8c00" fill-opacity="0.9"/>
<polygon points="515.58,249 518.65,252.9 515.58,256.8" fill="#ff8c00"/>
<polygon points="519.04,249 521.72,252.9 519.04,256.8" fill="#ff8c00" fill-opacity="0.9"/>
<polygon points="521.72,249 523.84,252.9 521.72,256.8" fill="#ff8c00" fill-opacity="0.9"/>
<polygon points="524.32,249 527.39,252.9 524.32,256.8" fill="#ff8c00"/>
<polygon points="528.25,250.7 534,250.7 534,249 536.98,252.9 534,256.8 534,255.1 528.25,255.1" fill="#ff8c00"/>
<polygon points="537.46,249 539.66,252.9 537.46,256.8" fill="#ff8c00"/>
<polygon points="540.53,249 542.73,252.9 540.53,256.8" fill="#ff8c00"/>
<polygon points="543.98,250.7 548.49,250.7 548.49,249 551.46,252.9 548.49,256.8 548.49,255.1 543.98,255.1" fill="#ff8c00"/>
<polygon points="552.14,250.7 566.62,250.7 566.62,249 569.6,252.9 566.62,256.8 566.62,255.1 552.14,255.1" fill="#ff8c00"/>
<polygon points="570.27,249 572.38,252.9 570.27,256.8" fill="#ff8c00"/>
<polygon points="573.05,249 575.06,252.9 573.05,256.8" fill="#ff8c00"/>
<polygon points="579.19,249 576.31,252.9 579.19,256.8" fill="#ff8c00"/>
<polygon points="583.79,249 580.44,252.9 583.79,256.8" fill="#ff8c00"/>
<polygon points="587.63,249 584.75,252.9 587.63,256.8" fill="#ff8c00"/>
<polygon points="587.63,249 590.51,252.9 587.63,256.8" fill="#ff8c00"/>
<polygon points="590.41,249 593,252.9 590.41,256.8" fill="#ff8c00"/>
<polygon points="593,249 595.21,252.9 593,256.8" fill="#ff8c00"/>
<polygon points="595.21,249 597.8,252.9 595.21,256.8" fill="#ff8c00"/>
<polygon points="597.8,250.7 598.38,250.7 598.38,249 601.35,252.9 598.38,256.8 598.38,255.1 597.8,255.1" fill="#ff8c00"/>
<polygon points="603.75,249 605.67,252.9 603.75,256.8" fill="#ff8c00"/>
<polygon points="607.68,249 606.15,252.9 607.68,256.8" fill="#ff8c00"/>
<line x1="436.6" y1="287" x2="607.5" y2="287" stroke="#1e1e1e" stroke-width="1.1"/>
<line x1="440.35" y1="287" x2="440.35" y2="287" stroke="#1e1e1e" stroke-width="0.0"/>
<polygon points="440.35,283.1 442.07,287 440.35,290.9" fill="#ff8c00" fill-opacity="0.72"/>
<polygon points="442.07,283.1 443.9,287 442.07,290.9" fill="#ff8c00" fill-opacity="0.72"/>
<polygon points="446.49,283.1 448.69,287 446.49,290.9" fill="#ff8c00" fill-opacity="0.96"/>
<polygon points="449.36,283.1 450.8,287 449.36,290.9" fill="#ff8c00"/>
<polygon points="450.8,283.1 453.01,287 450.8,290.9" fill="#ff8c00" fill-opacity="0.72"/>
<polygon points="453.87,283.1 456.08,287 453.87,290.9" fill="#ff8c00"/>
<polygon points="457.9,283.1 459.63,287 457.9,290.9" fill="#ff8c00" fill-opacity="0.84"/>
<polygon points="459.63,283.1 461.36,287 459.63,290.9" fill="#ff8c00" fill-opacity="0.84"/>
<polygon points="461.36,283.1 464.04,287 461.36,290.9" fill="#ff8c00"/>
<polygon points="464.43,284.8 465.86,284.8 465.86,283.1 468.84,287 465.86,290.9 465.86,289.2 464.43,289.2" fill="#ff8c00"/>
<polygon points="469.22,283.1 470.95,287 469.22,290.9" fill="#ff8c00" fill-opacity="0.9"/>
<polygon points="471.43,283.1 474.5,287 471.43,290.9" fill="#ff8c00"/>
<polygon points="475.27,283.1 476.99,287 475.27,290.9" fill="#ff8c00" fill-opacity="0.78"/>
<polygon points="476.99,283.1 478.82,287 476.99,290.9" fill="#ff8c00" fill-opacity="0.78"/>
<polygon points="479.68,283.1 481.89,287 479.68,290.9" fill="#ff8c00"/>
<polygon points="484.86,284.8 489.94,284.8 489.94,283.1 492.92,287 489.94,290.9 489.94,289.2 484.86,289.2" fill="#ff8c00"/>
<polygon points="493.3,283.1 494.65,287 493.3,290.9" fill="#ff8c00" fill-opacity="0.9"/>
<polygon points="494.65,283.1 496.85,287 494.65,290.9" fill="#ff8c00"/>
<polygon points="497.24,283.1 500.31,287 497.24,290.9" fill="#ff8c00"/>
<polygon points="500.69,283.1 502.51,287 500.69,290.9" fill="#ff8c00"/>
<polygon points="502.9,284.8 506.06,284.8 506.06,283.1 509.04,287 506.06,290.9 506.06,289.2 502.9,289.2" fill="#ff8c00"/>
<polygon points="509.52,283.1 511.72,287 509.52,290.9" fill="#ff8c00" fill-opacity="0.9"/>
<polygon points="512.58,283.1 515.65,287 512.58,290.9" fill="#ff8c00"/>
<polygon points="516.04,283.1 518.72,287 516.04,290.9" fill="#ff8c00" fill-opacity="0.9"/>
<polygon points="518.72,283.1 520.84,287 518.72,290.9" fill="#ff8c00" fill-opacity="0.9"/>
<polygon points="521.32,283.1 524.39,287 521.32,290.9" fill="#ff8c00"/>
<polygon points="525.25,284.8 531,284.8 531,283.1 533.98,287 531,290.9 531,289.2 525.25,289.2" fill="#ff8c00"/>
<polygon points="534.46,283.1 536.66,287 534.46,290.9" fill="#ff8c00"/>
<polygon points="537.53,283.1 539.73,287 537.53,290.9" fill="#ff8c00"/>
<polygon points="540.98,284.8 545.49,284.8 545.49,283.1 548.46,287 545.49,290.9 545.49,289.2 540.98,289.2" fill="#ff8c00"/>
<polygon points="549.14,284.8 563.62,284.8 563.62,283.1 566.6,287 563.62,290.9 563.62,289.2 549.14,289.2" fill="#ff8c00"/>
<polygon points="567.27,283.1 569.38,287 567.27,290.9" fill="#ff8c00"/>
<polygon points="570.05,283.1 572.06,287 570.05,290.9" fill="#ff8c00"/>
<polygon points="576.19,283.1 573.31,287 576.19,290.9" fill="#ff8c00"/>
<polygon points="580.79,283.1 577.44,287 580.79,290.9" fill="#ff8c00"/>
<polygon points="584.63,283.1 581.75,287 584.63,290.9" fill="#ff8c00"/>
<polygon points="584.63,283.1 587.51,287 584.63,290.9" fill="#ff8c00"/>
<polygon points="587.41,283.1 590,287 587.41,290.9" fill="#ff8c00"/>
<polygon points="590,283.1 592.21,287 590,290.9" fill="#ff8c00"/>
<polygon points="592.21,283.1 594.8,287 592.21,290.9" fill="#ff8c00"/>
<polygon points="594.8,284.8 595.38,284.8 595.38,283.1 598.35,287 595.38,290.9 595.38,289.2 594.8,289.2" fill="#ff8c00"/>
<polygon points="600.75,283.1 602.67,287 600.75,290.9" fill="#ff8c00"/>
<polygon points="604.68,283.1 603.15,287 604.68,290.9" fill="#ff8c00"/>
<text class="sl" transform="translate(346.1,187.75) scale(0.8399,1)" font-size="5.0">Strain NBRC 105727</text>
<text class="sl" transform="translate(346.1,220.85) scale(0.8054,1)" font-size="5.0">Strain Marseille-P1025</text>
<text class="sl" transform="translate(346.1,253.65) scale(0.8052,1)" font-size="5.0">Strain 2-156-04_S1_C1</text>
<text class="sl" transform="translate(346.1,287.65) scale(0.8052,1)" font-size="5.0">Strain 2-156-04_S1_C2</text>
<rect x="634" y="291.7" width="4.9" height="24.8" fill="url(#gD)"/>
<text class="lg" transform="translate(639.8,296.6) scale(0.7385,1)" font-size="5.4">100%</text>
<text class="lg" transform="translate(639.8,315.9) scale(0.8142,1)" font-size="5.4">70%</text>
<text class="pl" transform="translate(347.3,313.55) scale(0.86,1)" font-size="5.6">D</text>
</svg>
</body></html>
